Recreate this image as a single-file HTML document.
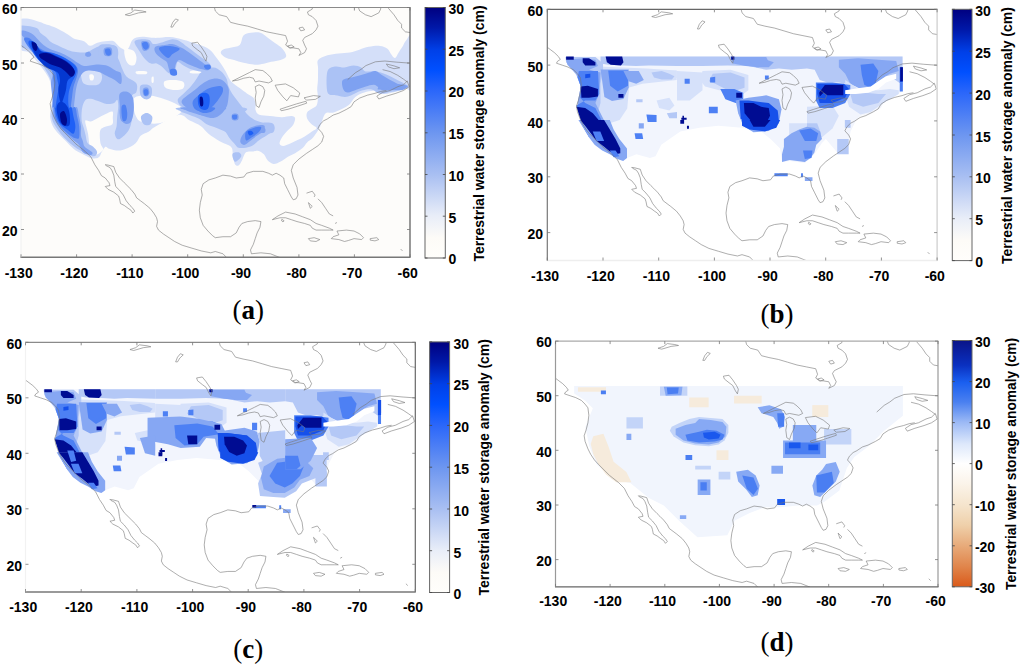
<!DOCTYPE html><html><head><meta charset="utf-8"><style>html,body{margin:0;padding:0;background:#fff;overflow:hidden}svg{display:block}</style></head><body><svg width="1024" height="667" viewBox="0 0 1024 667">
<rect width="1024" height="667" fill="#fff"/>
<svg x="21.0" y="7.5" width="389.0" height="249.8" viewBox="0 0 1024 658" preserveAspectRatio="none" overflow="hidden">
<rect x="0" y="0" width="1024" height="658" fill="#fdfcfa"/>
<path d="M0.0,29.6C4.1,29.6 11.8,28.3 19.7,29.6C27.6,30.9 40.2,35.2 47.4,37.5C54.6,39.8 56.5,41.1 63.1,43.4C69.7,45.7 78.9,48.0 86.8,51.3C94.7,54.6 103.9,59.5 110.5,63.1C117.1,66.7 121.0,69.7 126.3,73.0C131.6,76.3 135.4,80.3 142.0,82.9C148.6,85.5 159.1,85.8 165.7,88.8C172.3,91.8 175.7,100.1 181.6,100.8C187.5,101.5 194.7,94.9 201.3,92.9C207.9,90.9 214.4,89.8 221.0,89.0C227.6,88.2 235.9,87.0 240.8,87.9C245.8,88.9 247.4,91.9 250.7,94.7C254.0,97.5 257.3,102.2 260.6,104.8C263.9,107.4 267.8,108.9 270.4,110.5C273.0,112.1 274.1,115.5 276.4,114.5C278.7,113.5 281.7,109.4 284.3,104.8C286.9,100.2 288.9,91.1 292.2,86.8C295.5,82.5 299.4,80.6 304.0,79.0C308.6,77.4 313.9,77.0 319.8,77.0C325.7,77.0 333.0,78.5 339.5,79.0C346.0,79.5 349.7,80.2 358.6,80.0C367.5,79.8 382.3,77.3 393.0,78.0C403.7,78.7 413.6,81.7 422.7,83.9C431.8,86.1 439.2,88.8 447.4,91.3C455.6,93.8 463.8,95.4 472.0,98.7C480.2,102.0 490.2,106.1 496.8,111.0C503.4,115.9 506.7,122.1 511.6,128.3C516.5,134.5 521.9,141.4 526.4,148.0C530.9,154.6 535.0,161.2 538.7,167.8C542.4,174.4 545.7,182.6 548.6,187.5C551.5,192.4 551.5,193.3 556.0,197.4C560.5,201.5 569.1,207.3 575.7,212.2C582.3,217.1 589.5,222.7 595.5,227.0C601.5,231.3 608.4,233.3 612.0,238.0C615.6,242.7 616.5,249.7 617.4,255.0C618.3,260.4 615.8,265.5 617.4,270.1C619.0,274.7 620.6,280.1 626.9,282.7C633.2,285.3 645.3,284.8 655.3,285.8C665.3,286.9 677.4,289.0 686.9,289.0C696.4,289.0 706.3,285.3 712.1,285.8C717.9,286.3 721.1,287.9 721.6,292.1C722.1,296.3 719.0,305.3 715.3,311.1C711.6,316.9 704.2,321.6 699.5,326.9C694.8,332.1 690.0,337.4 686.9,342.6C683.8,347.9 680.1,354.7 680.6,358.4C681.1,362.1 685.3,364.7 690.0,364.7C694.7,364.7 702.7,361.0 709.0,358.4C715.3,355.8 721.6,352.1 727.9,349.0C734.2,345.9 740.5,343.2 746.8,339.5C753.1,335.8 760.5,330.6 765.8,326.9C771.1,323.2 778.4,320.6 778.4,317.4C778.4,314.2 770.0,312.1 765.8,307.9C761.6,303.7 755.2,297.4 753.1,292.1C751.0,286.9 751.0,280.6 753.1,276.4C755.2,272.2 761.6,270.1 765.8,266.9C770.0,263.7 775.8,262.6 778.4,257.4C781.0,252.2 781.4,242.4 781.6,235.5C781.8,228.6 779.7,223.0 779.7,215.8C779.7,208.6 781.2,201.4 781.6,192.1C782.0,182.8 781.9,169.0 782.0,160.0C782.1,151.0 777.9,143.9 782.0,138.2C786.1,132.5 797.7,128.7 806.7,125.8C815.8,122.9 826.4,122.1 836.3,120.9C846.2,119.7 856.8,120.1 865.9,118.4C875.0,116.8 882.4,113.5 890.6,111.0C898.8,108.5 906.2,105.2 915.2,103.6C924.2,102.0 936.6,100.4 944.8,101.2C953.0,102.0 959.6,104.9 964.6,108.6C969.6,112.3 971.2,119.3 974.5,123.4C977.8,127.5 981.0,134.0 984.3,133.2C987.6,132.4 990.9,123.3 994.2,118.4C997.5,113.5 1000.7,108.9 1004.0,103.6C1007.3,98.3 1009.7,90.5 1014.0,86.4C1018.3,82.3 1027.3,58.8 1030.0,79.0C1032.7,99.2 1033.3,185.4 1030.0,207.9C1026.7,230.4 1018.9,211.2 1010.4,213.8C1001.9,216.4 988.0,221.4 978.8,223.7C969.6,226.0 963.1,228.3 955.2,227.6C947.3,226.9 940.0,220.3 931.5,219.7C923.0,219.0 912.4,221.1 903.9,223.7C895.4,226.3 886.8,230.2 880.2,235.5C873.6,240.8 870.4,249.9 864.5,255.2C858.6,260.5 852.0,263.5 844.7,267.1C837.5,270.7 828.2,275.0 821.0,277.0C813.8,279.0 806.8,273.1 801.3,278.9C795.8,284.7 791.9,303.5 788.0,312.0C784.1,320.5 781.7,324.4 778.0,330.0C774.3,335.6 769.9,341.6 765.8,345.8C761.6,350.0 757.3,351.1 753.1,355.3C748.9,359.5 745.8,366.3 740.5,371.0C735.2,375.7 727.9,380.0 721.6,383.7C715.3,387.4 708.9,389.4 702.6,393.1C696.3,396.8 690.0,402.6 683.7,405.8C677.4,409.0 670.6,412.6 664.8,412.1C659.0,411.6 653.2,406.8 649.0,402.6C644.8,398.4 643.7,391.0 639.5,386.8C635.3,382.6 628.3,378.7 623.7,377.4C619.1,376.1 617.1,378.5 611.9,379.2C606.6,379.9 597.1,377.9 592.2,381.6C587.3,385.3 585.6,395.6 582.3,401.4C579.0,407.2 575.8,414.5 572.5,416.2C569.2,417.9 565.1,416.2 562.6,411.3C560.1,406.4 559.4,394.0 557.7,386.6C556.1,379.2 558.5,372.6 552.7,366.8C546.9,361.0 533.0,357.8 523.1,352.0C513.2,346.2 501.7,338.9 493.5,332.3C485.3,325.7 482.0,318.4 473.8,312.6C465.6,306.8 454.1,302.6 444.2,297.7C434.3,292.8 429.3,280.4 414.5,282.9C399.7,285.4 368.4,305.2 355.3,312.6C342.2,320.0 342.2,323.3 335.6,327.4C329.0,331.5 320.7,333.1 315.8,337.2C310.9,341.3 309.3,347.9 306.0,352.0C302.7,356.1 301.0,358.6 296.1,361.9C291.2,365.2 283.0,369.3 276.4,371.8C269.8,374.3 264.0,376.7 256.6,376.7C249.2,376.7 237.8,373.4 232.0,371.8C226.2,370.2 225.4,365.2 222.1,366.8C218.8,368.4 214.7,377.5 212.2,381.6C209.7,385.7 209.8,388.9 207.3,391.5C204.8,394.1 201.5,396.6 197.4,397.4C193.3,398.2 189.2,398.6 182.6,396.4C176.0,394.2 165.3,388.2 157.9,384.1C150.5,380.0 144.8,377.2 138.2,371.8C131.6,366.4 125.0,358.6 118.4,352.0C111.8,345.4 104.5,338.9 98.7,332.3C93.0,325.7 87.6,320.0 83.9,312.6C80.2,305.2 77.3,296.1 76.5,287.9C75.7,279.7 78.1,271.2 79.0,263.2C79.9,255.2 81.8,248.0 82.0,240.0C82.2,232.0 81.2,223.3 80.0,215.0C78.8,206.7 78.3,198.3 75.0,190.0C71.7,181.7 65.8,173.3 60.0,165.0C54.2,156.7 46.7,147.8 40.0,140.0C33.3,132.2 27.5,123.8 20.0,118.0C12.5,112.2 -0.8,119.7 -5.0,105.0C-9.2,90.3 -5.8,42.2 -5.0,29.6C-4.2,17.0 -4.1,29.6 0.0,29.6Z" fill="#d4dff9"/>
<path d="M526.4,120.9C524.8,117.2 527.2,113.5 531.3,111.0C535.4,108.5 543.6,108.1 551.0,106.1C558.4,104.0 569.9,104.0 575.7,98.7C581.5,93.4 580.7,79.3 585.6,74.0C590.5,68.7 597.9,67.8 605.3,66.6C612.7,65.4 622.8,64.5 630.0,66.6C637.2,68.7 642.3,74.5 648.7,79.0C655.1,83.5 661.9,88.9 668.5,93.8C675.1,98.7 683.3,102.8 688.2,108.6C693.1,114.3 698.9,123.4 698.1,128.3C697.3,133.2 689.9,135.7 683.3,138.2C676.7,140.7 666.0,141.5 658.6,143.1C651.2,144.7 646.1,146.8 638.9,148.0C631.7,149.2 624.1,150.9 615.2,150.5C606.3,150.1 594.7,147.7 585.6,145.6C576.5,143.5 568.3,140.3 560.9,138.2C553.5,136.1 547.0,136.1 541.2,133.2C535.5,130.3 528.0,124.6 526.4,120.9Z" fill="#d4dff9"/>
<path d="M304.0,168.0C308.0,166.8 324.7,166.8 329.0,168.0C333.3,169.2 334.0,173.8 330.0,175.0C326.0,176.2 309.3,176.2 305.0,175.0C300.7,173.8 300.0,169.2 304.0,168.0Z" fill="#fdfcfa"/>
<path d="M272.0,113.0C273.3,108.0 280.7,109.5 285.0,110.0C289.3,110.5 294.8,112.3 298.0,116.0C301.2,119.7 303.7,126.3 304.0,132.0C304.3,137.7 302.7,146.7 300.0,150.0C297.3,153.3 291.8,153.7 288.0,152.0C284.2,150.3 279.7,146.5 277.0,140.0C274.3,133.5 270.7,118.0 272.0,113.0Z" fill="#fdfcfa"/>
<path d="M341.0,122.0C343.8,117.7 355.8,116.3 360.0,118.0C364.2,119.7 366.0,127.3 366.0,132.0C366.0,136.7 363.8,144.0 360.0,146.0C356.2,148.0 346.2,148.0 343.0,144.0C339.8,140.0 338.2,126.3 341.0,122.0Z" fill="#fdfcfa"/>
<path d="M344.0,184.0C344.8,181.7 348.2,180.8 349.0,183.0C349.8,185.2 349.8,194.7 349.0,197.0C348.2,199.3 344.8,199.2 344.0,197.0C343.2,194.8 343.2,186.3 344.0,184.0Z" fill="#fdfcfa"/>
<path d="M378.0,194.0C382.2,190.7 396.7,190.5 405.0,191.0C413.3,191.5 424.5,193.2 428.0,197.0C431.5,200.8 430.7,210.7 426.0,214.0C421.3,217.3 407.7,217.5 400.0,217.0C392.3,216.5 383.7,214.8 380.0,211.0C376.3,207.2 373.8,197.3 378.0,194.0Z" fill="#fdfcfa"/>
<path d="M447.0,167.0C451.2,166.0 467.8,166.0 472.0,167.0C476.2,168.0 476.2,172.0 472.0,173.0C467.8,174.0 451.2,174.0 447.0,173.0C442.8,172.0 442.8,168.0 447.0,167.0Z" fill="#fdfcfa"/>
<path d="M299.4,236.9C306.4,231.2 325.6,231.2 338.8,232.0C352.0,232.8 366.0,237.7 378.3,241.8C390.6,245.9 405.1,251.9 412.9,256.6C420.7,261.3 425.5,265.3 425.0,270.0C424.5,274.7 417.5,280.0 410.0,285.0C402.5,290.0 390.0,296.5 380.0,300.0C370.0,303.5 358.3,306.0 350.0,306.0C341.7,306.0 336.0,301.0 330.0,300.0C324.0,299.0 318.5,301.7 314.2,300.0C309.9,298.3 307.2,295.6 304.3,290.0C301.4,284.4 297.7,275.4 296.9,266.5C296.1,257.6 292.4,242.7 299.4,236.9Z" fill="#fdfcfa"/>
<path d="M169.5,297.9C171.5,295.5 178.2,301.4 183.7,300.2C189.2,299.0 196.3,293.9 202.6,290.8C208.9,287.7 215.3,284.1 221.6,281.3C227.9,278.5 237.2,272.6 240.5,274.2C243.8,275.8 241.7,285.3 241.7,290.8C241.7,296.3 243.8,303.4 240.5,307.3C237.2,311.2 226.7,312.0 221.6,314.4C216.5,316.8 212.1,317.6 209.7,321.5C207.3,325.4 207.4,331.8 207.4,338.1C207.4,344.4 208.1,353.5 209.7,359.4C211.3,365.3 217.2,369.7 216.8,373.6C216.4,377.6 211.3,380.5 207.4,383.1C203.5,385.8 197.1,388.4 193.2,389.5C189.2,390.6 185.7,392.1 183.7,389.5C181.7,386.9 182.1,379.4 181.3,373.6C180.5,367.8 179.8,361.4 179.0,354.7C178.2,348.0 177.8,340.1 176.6,333.4C175.4,326.7 173.1,320.3 171.9,314.4C170.7,308.5 167.5,300.3 169.5,297.9Z" fill="#fdfcfa"/>
<path d="M0.0,47.4C4.8,47.7 16.5,48.0 23.7,49.3C30.9,50.6 38.8,52.2 43.4,55.2C48.0,58.2 47.3,63.1 51.3,67.1C55.2,71.0 62.5,75.0 67.1,78.9C71.7,82.9 73.0,86.8 78.9,90.8C84.8,94.8 94.2,98.7 102.6,102.6C110.9,106.5 121.1,111.4 129.0,114.0C136.9,116.6 142.3,117.5 150.0,118.0C157.7,118.5 166.7,119.3 175.0,117.0C183.3,114.7 191.7,107.2 200.0,104.0C208.3,100.8 216.7,98.2 225.0,98.0C233.3,97.8 245.5,98.5 250.0,103.0C254.5,107.5 250.5,118.7 252.0,125.0C253.5,131.3 256.3,134.5 258.8,140.8C261.3,147.1 263.9,156.0 267.1,162.9C270.3,169.8 272.7,176.8 278.2,182.3C283.7,187.8 295.6,192.0 300.2,196.1C304.8,200.2 305.3,202.5 305.8,207.1C306.3,211.7 304.9,220.0 303.0,223.7C301.1,227.4 297.0,226.9 294.7,229.2C292.4,231.5 289.6,233.8 289.2,237.5C288.8,241.2 291.1,244.4 292.0,251.3C292.9,258.2 294.9,270.8 294.7,278.9C294.5,287.0 292.4,293.6 291.0,300.0C289.6,306.4 288.6,312.1 286.2,317.5C283.8,322.9 281.3,327.4 276.4,332.3C271.5,337.2 261.5,347.1 256.6,347.1C251.7,347.1 247.6,338.1 246.8,332.3C246.0,326.6 250.7,319.7 251.7,312.6C252.7,305.6 252.3,298.8 253.0,290.0C253.7,281.2 255.9,267.8 256.0,260.0C256.1,252.2 255.1,244.4 253.3,243.0C251.5,241.6 249.6,249.5 245.0,251.3C240.4,253.2 233.1,255.0 225.7,254.1C218.3,253.2 207.7,248.1 200.8,245.8C193.9,243.5 189.3,240.8 184.2,240.3C179.1,239.8 174.1,239.8 170.4,243.0C166.7,246.2 163.9,253.6 162.1,259.6C160.3,265.6 159.8,272.2 159.4,278.9C159.1,285.6 159.0,293.6 160.0,300.0C161.0,306.4 163.6,311.3 165.3,317.5C167.0,323.7 168.7,330.6 170.3,337.2C172.0,343.8 171.9,352.1 175.2,357.0C178.5,361.9 185.9,363.1 190.0,366.8C194.1,370.5 198.7,375.5 199.9,379.2C201.1,382.9 199.5,386.9 197.4,389.0C195.3,391.1 192.4,392.7 187.5,391.5C182.6,390.3 174.4,384.9 167.8,381.6C161.2,378.3 154.6,375.9 148.0,371.8C141.4,367.7 134.9,362.8 128.3,357.0C121.7,351.2 114.3,343.8 108.6,337.2C102.8,330.6 98.3,324.9 93.8,317.5C89.3,310.1 83.5,301.9 81.4,292.8C79.3,283.8 81.0,272.0 81.4,263.2C81.8,254.4 83.9,248.0 84.0,240.0C84.1,232.0 83.0,223.3 82.0,215.0C81.0,206.7 81.3,199.2 78.0,190.0C74.7,180.8 68.3,170.0 62.0,160.0C55.7,150.0 47.3,138.3 40.0,130.0C32.7,121.7 25.5,115.3 18.0,110.0C10.5,104.7 -1.2,108.4 -5.0,98.0C-8.8,87.6 -5.8,55.8 -5.0,47.4C-4.2,39.0 -4.8,47.1 0.0,47.4Z" fill="#abc2f5"/>
<path d="M159.0,170.0C161.7,166.7 169.0,165.7 175.0,165.0C181.0,164.3 189.2,164.8 195.0,166.0C200.8,167.2 207.0,168.3 210.0,172.0C213.0,175.7 213.8,183.0 213.0,188.0C212.2,193.0 209.7,199.2 205.0,202.0C200.3,204.8 191.7,205.3 185.0,205.0C178.3,204.7 169.3,203.3 165.0,200.0C160.7,196.7 160.0,190.0 159.0,185.0C158.0,180.0 156.3,173.3 159.0,170.0Z" fill="#d4dff9"/>
<path d="M180.0,178.0C180.8,175.5 185.0,175.5 187.0,176.0C189.0,176.5 191.5,178.5 192.0,181.0C192.5,183.5 191.7,189.3 190.0,191.0C188.3,192.7 183.7,193.2 182.0,191.0C180.3,188.8 179.2,180.5 180.0,178.0Z" fill="#fdfcfa"/>
<path d="M299.4,88.8C301.8,85.5 312.4,84.3 319.0,83.9C325.6,83.5 333.9,84.4 338.8,86.4C343.8,88.5 342.9,95.4 348.7,96.2C354.5,97.0 365.2,93.3 373.4,91.3C381.6,89.2 390.6,84.3 398.0,83.9C405.4,83.5 411.2,85.5 417.8,88.8C424.4,92.1 430.9,98.7 437.5,103.6C444.1,108.5 450.7,113.5 457.3,118.4C463.9,123.3 470.4,128.3 477.0,133.2C483.6,138.1 492.7,143.1 496.8,148.0C500.9,152.9 503.4,159.2 501.7,162.9C500.0,166.6 492.7,169.5 486.9,170.3C481.1,171.1 473.7,169.0 467.1,167.8C460.5,166.6 454.0,165.4 447.4,162.9C440.8,160.4 433.4,156.3 427.7,153.0C421.9,149.7 416.2,142.3 412.9,143.1C409.6,143.9 409.5,152.6 407.9,157.9C406.2,163.2 406.3,172.7 403.0,175.2C399.7,177.7 393.1,175.6 388.2,172.7C383.3,169.8 378.3,162.0 373.4,157.9C368.5,153.8 363.5,149.7 358.6,148.0C353.7,146.3 347.9,148.8 343.8,148.0C339.7,147.2 337.2,145.6 333.9,143.1C330.6,140.6 327.3,137.3 324.0,133.2C320.7,129.1 317.5,123.3 314.2,118.4C310.9,113.5 306.8,108.5 304.3,103.6C301.8,98.7 296.9,92.1 299.4,88.8Z" fill="#abc2f5"/>
<path d="M482.0,167.8C487.8,165.3 499.2,157.9 506.6,157.9C514.0,157.9 520.6,162.9 526.4,167.8C532.2,172.7 537.9,180.9 541.2,187.5C544.5,194.1 543.6,200.7 546.1,207.3C548.6,213.9 551.9,220.4 556.0,227.0C560.1,233.6 565.9,240.2 570.8,246.8C575.7,253.4 581.5,260.8 585.6,266.5C589.7,272.2 590.6,276.4 595.5,281.3C600.4,286.2 607.0,292.0 615.2,296.1C623.4,300.2 637.3,303.4 644.8,306.0C652.3,308.6 656.4,310.5 660.0,312.0C663.6,313.5 665.6,312.9 666.2,315.0C666.8,317.1 667.1,321.2 663.8,324.9C660.5,328.6 652.7,333.1 646.5,337.2C640.3,341.3 632.5,345.5 626.7,349.6C620.9,353.7 617.6,358.6 611.9,361.9C606.1,365.2 598.8,368.1 592.2,369.3C585.6,370.5 577.4,371.0 572.5,369.3C567.6,367.6 566.7,363.9 562.6,359.4C558.5,354.9 551.9,347.5 547.8,342.2C543.7,336.9 544.8,335.9 537.9,327.4C531.0,318.9 515.1,298.1 506.6,291.2C498.1,284.3 495.1,288.7 486.9,286.2C478.7,283.7 466.4,279.7 457.3,276.4C448.2,273.1 439.2,269.8 432.6,266.5C426.0,263.2 421.1,260.7 417.8,256.6C414.5,252.5 411.2,246.7 412.9,241.8C414.5,236.9 421.9,232.8 427.7,227.0C433.4,221.2 441.6,213.9 447.4,207.3C453.1,200.7 458.1,193.3 462.2,187.5C466.3,181.7 468.7,176.0 472.0,172.7C475.3,169.4 476.2,170.3 482.0,167.8Z" fill="#abc2f5"/>
<path d="M420.0,263.2C447.1,261.5 554.4,260.7 582.3,263.2C610.2,265.7 585.6,273.1 587.3,278.0C588.9,282.9 589.7,288.7 592.2,292.8C594.7,296.9 596.4,300.6 602.1,302.7C607.9,304.8 618.5,304.3 626.7,305.1C634.9,305.9 655.9,303.5 651.4,307.6C646.9,311.8 615.2,324.6 600.0,330.0C584.8,335.4 570.4,340.4 560.0,340.0C549.6,339.6 546.5,331.6 537.9,327.4C529.3,323.2 516.5,318.3 508.3,315.0C500.1,311.7 495.2,311.3 488.6,307.6C482.0,303.9 476.2,296.9 468.8,292.8C461.4,288.7 452.4,286.2 444.2,282.9C436.0,279.6 423.5,276.4 419.5,273.1C415.5,269.8 392.9,264.9 420.0,263.2Z" fill="#abc2f5"/>
<path d="M557.7,384.1C560.2,381.6 568.8,380.4 572.5,381.6C576.2,382.8 581.1,387.4 579.9,391.5C578.7,395.6 568.8,405.5 565.1,406.3C561.4,407.1 558.9,400.1 557.7,396.4C556.5,392.7 555.2,386.6 557.7,384.1Z" fill="#abc2f5"/>
<path d="M314.0,207.0C316.5,202.2 325.0,202.2 330.0,203.0C335.0,203.8 342.0,206.5 344.0,212.0C346.0,217.5 344.7,231.0 342.0,236.0C339.3,241.0 332.5,242.7 328.0,242.0C323.5,241.3 317.3,237.8 315.0,232.0C312.7,226.2 311.5,211.8 314.0,207.0Z" fill="#abc2f5"/>
<path d="M315.8,287.9C317.0,283.0 325.7,278.0 330.6,278.0C335.6,278.0 343.9,283.0 345.5,287.9C347.1,292.8 344.2,304.3 340.5,307.6C336.8,310.9 327.3,310.9 323.2,307.6C319.1,304.3 314.6,292.8 315.8,287.9Z" fill="#abc2f5"/>
<path d="M205.0,102.0C208.2,96.2 217.5,97.0 225.0,97.0C232.5,97.0 244.8,98.2 250.0,102.0C255.2,105.8 256.0,113.7 256.0,120.0C256.0,126.3 255.0,136.3 250.0,140.0C245.0,143.7 233.3,143.3 226.0,142.0C218.7,140.7 209.5,138.7 206.0,132.0C202.5,125.3 201.8,107.8 205.0,102.0Z" fill="#abc2f5"/>
<path d="M806.7,167.8C810.2,157.8 819.0,157.2 826.4,155.5C833.8,153.8 842.9,158.3 851.1,157.9C859.3,157.5 868.4,153.0 875.8,153.0C883.2,153.0 890.6,155.4 895.5,157.9C900.4,160.4 900.5,166.2 905.4,167.8C910.3,169.5 918.5,167.4 925.1,167.8C931.7,168.2 938.2,168.7 944.8,170.3C951.4,171.9 958.0,174.7 964.6,177.6C971.2,180.5 977.7,184.2 984.3,187.5C990.9,190.8 998.2,194.1 1004.0,197.4C1009.8,200.7 1018.9,204.0 1018.9,207.3C1018.9,210.6 1011.4,214.6 1004.0,217.1C996.6,219.6 984.4,220.4 974.5,222.1C964.6,223.8 953.3,228.1 944.8,227.0C936.3,225.9 931.1,217.3 923.6,215.8C916.1,214.3 906.5,216.5 899.9,217.8C893.3,219.1 889.5,221.4 884.2,223.7C879.0,226.0 873.7,229.6 868.4,231.6C863.1,233.6 858.5,235.5 852.6,235.5C846.7,235.5 839.5,232.6 832.9,231.6C826.3,230.6 817.8,232.2 813.2,229.6C808.6,227.0 806.4,226.1 805.3,215.8C804.2,205.5 803.2,177.9 806.7,167.8Z" fill="#abc2f5"/>
<path d="M629.0,306.0C634.8,302.2 657.8,302.2 663.5,306.0C669.2,309.8 669.2,325.2 663.5,329.0C657.8,332.8 634.8,332.8 629.0,329.0C623.2,325.2 623.2,309.8 629.0,306.0Z" fill="#abc2f5"/>
<path d="M0.0,61.2C2.6,59.9 10.5,61.5 15.8,63.1C21.1,64.7 27.0,67.7 31.6,71.0C36.2,74.3 38.8,78.3 43.4,82.9C48.0,87.5 53.3,94.0 59.2,98.6C65.1,103.2 71.7,107.2 78.9,110.5C86.1,113.8 94.7,115.1 102.6,118.4C110.5,121.7 118.4,125.6 126.3,130.2C134.2,134.8 143.4,142.1 150.0,146.0C156.6,149.9 159.8,152.9 165.7,153.9C171.6,154.9 178.9,152.7 185.5,152.0C192.1,151.3 198.0,149.7 205.2,150.0C212.4,150.3 221.7,151.3 228.9,153.9C236.1,156.5 242.9,162.4 248.6,165.7C254.3,169.0 260.8,167.7 263.2,173.6C265.6,179.5 266.3,198.6 263.2,201.2C260.1,203.8 251.6,193.3 244.6,189.4C237.6,185.5 227.6,180.9 221.0,177.6C214.4,174.3 211.8,171.7 205.2,169.7C198.6,167.7 188.1,165.7 181.5,165.7C174.9,165.7 170.3,166.4 165.7,169.7C161.1,173.0 157.2,178.9 153.9,185.5C150.6,192.1 148.0,200.5 146.0,209.1C144.0,217.7 143.0,227.8 142.0,236.8C141.0,245.8 139.0,258.8 140.0,263.2C141.0,267.6 145.8,259.1 148.0,263.2C150.2,267.3 151.3,279.7 153.0,287.9C154.7,296.1 157.1,304.4 157.9,312.6C158.7,320.8 157.1,330.6 157.9,337.2C158.7,343.8 161.2,347.1 162.9,352.0C164.6,356.9 163.7,361.9 167.8,366.8C171.9,371.7 185.0,377.9 187.5,381.6C190.0,385.3 186.7,389.0 182.6,389.0C178.5,389.0 167.8,386.1 162.9,381.6C158.0,377.1 157.1,367.2 153.0,361.9C148.9,356.6 144.0,354.5 138.2,349.6C132.4,344.7 125.0,338.5 118.4,332.3C111.8,326.1 104.0,320.0 98.7,312.6C93.4,305.2 88.9,296.1 86.4,287.9C83.9,279.7 84.2,267.3 83.9,263.2C83.6,259.1 85.0,266.3 84.8,263.2C84.6,260.1 83.6,251.6 82.9,244.6C82.2,237.6 81.6,228.9 80.9,221.0C80.2,213.1 78.6,204.5 78.9,197.3C79.2,190.1 82.9,185.5 82.9,177.6C82.9,169.7 82.9,157.2 78.9,150.0C75.0,142.8 65.8,139.5 59.2,134.2C52.6,128.9 46.1,124.3 39.5,118.4C32.9,112.5 25.0,105.2 19.7,98.6C14.4,92.0 11.2,83.5 7.9,78.9C4.6,74.3 1.3,74.0 0.0,71.0C-1.3,68.0 -2.6,62.5 0.0,61.2Z" fill="#7ea1f1"/>
<path d="M219.0,108.0C221.8,104.7 233.5,104.0 237.0,106.0C240.5,108.0 240.3,116.3 240.0,120.0C239.7,123.7 238.3,127.0 235.0,128.0C231.7,129.0 222.7,129.3 220.0,126.0C217.3,122.7 216.2,111.3 219.0,108.0Z" fill="#7ea1f1"/>
<path d="M316.6,91.3C317.9,87.2 326.3,88.2 330.0,89.0C333.7,89.8 337.8,92.5 338.8,96.0C339.8,99.5 338.8,107.1 336.0,110.0C333.2,112.9 325.2,116.6 322.0,113.5C318.8,110.4 315.3,95.4 316.6,91.3Z" fill="#7ea1f1"/>
<path d="M353.6,103.6C357.7,100.3 370.9,99.9 378.3,98.7C385.7,97.5 390.6,95.0 398.0,96.2C405.4,97.4 415.3,102.4 422.7,106.1C430.1,109.8 435.9,113.9 442.5,118.4C449.1,122.9 455.6,128.3 462.2,133.2C468.8,138.1 476.2,143.9 482.0,148.0C487.8,152.1 495.2,155.0 496.8,157.9C498.4,160.8 495.1,164.5 491.8,165.3C488.5,166.1 481.9,164.1 477.0,162.9C472.1,161.7 468.8,160.4 462.2,157.9C455.6,155.4 444.9,151.3 437.5,148.0C430.1,144.7 422.7,138.2 417.8,138.2C412.9,138.2 410.4,143.1 407.9,148.0C405.4,152.9 405.5,163.7 403.0,167.8C400.5,171.9 395.6,174.3 393.1,172.7C390.6,171.0 389.9,162.8 388.2,157.9C386.5,153.0 386.5,147.2 383.2,143.1C379.9,139.0 373.3,137.3 368.4,133.2C363.5,129.1 356.1,123.3 353.6,118.4C351.1,113.5 349.5,106.9 353.6,103.6Z" fill="#7ea1f1"/>
<path d="M170.0,120.0C171.7,118.2 177.5,116.2 180.0,117.0C182.5,117.8 185.3,122.8 185.0,125.0C184.7,127.2 180.5,129.5 178.0,130.0C175.5,130.5 171.3,129.7 170.0,128.0C168.7,126.3 168.3,121.8 170.0,120.0Z" fill="#7ea1f1"/>
<path d="M437.5,231.9C443.3,226.9 449.9,222.8 457.3,217.1C464.7,211.3 473.8,202.3 482.0,197.4C490.2,192.5 498.4,188.3 506.6,187.5C514.8,186.7 524.7,188.4 531.3,192.5C537.9,196.6 543.6,204.8 546.1,212.2C548.6,219.6 546.9,228.7 546.1,236.9C545.3,245.1 544.5,254.2 541.2,261.6C537.9,269.0 532.2,276.4 526.4,281.3C520.6,286.2 514.0,290.4 506.6,291.2C499.2,292.0 490.2,288.7 482.0,286.2C473.8,283.7 465.5,280.5 457.3,276.4C449.1,272.3 438.4,266.5 432.6,261.6C426.8,256.7 421.9,251.8 422.7,246.8C423.5,241.9 431.7,236.9 437.5,231.9Z" fill="#7ea1f1"/>
<path d="M259.9,227.0C263.2,221.2 273.9,220.4 279.6,222.1C285.4,223.8 291.5,228.7 294.4,236.9C297.3,245.1 297.7,260.7 296.9,271.4C296.1,282.1 293.2,295.2 289.5,301.0C285.8,306.8 279.2,307.6 274.7,306.0C270.2,304.4 264.8,299.4 262.3,291.2C259.8,283.0 260.3,267.3 259.9,256.6C259.5,245.9 256.6,232.8 259.9,227.0Z" fill="#7ea1f1"/>
<path d="M321.6,214.0C323.6,211.0 331.3,210.2 334.0,212.0C336.7,213.8 338.3,221.3 338.0,225.0C337.7,228.7 334.7,233.2 332.0,234.0C329.3,234.8 323.7,233.3 322.0,230.0C320.3,226.7 319.6,217.0 321.6,214.0Z" fill="#7ea1f1"/>
<path d="M556.0,281.0C558.5,278.5 568.5,278.5 571.0,281.0C573.5,283.5 573.5,293.5 571.0,296.0C568.5,298.5 558.5,298.5 556.0,296.0C553.5,293.5 553.5,283.5 556.0,281.0Z" fill="#7ea1f1"/>
<path d="M424.4,263.2C440.8,262.0 515.7,261.5 533.0,263.2C550.3,264.9 532.1,269.8 528.0,273.1C523.9,276.4 515.7,280.8 508.3,282.9C500.9,284.9 492.7,286.2 483.6,285.4C474.6,284.6 462.2,280.5 454.0,278.0C445.8,275.5 439.2,273.1 434.3,270.6C429.4,268.1 407.9,264.4 424.4,263.2Z" fill="#7ea1f1"/>
<path d="M582.3,337.2C586.4,331.0 594.7,322.0 602.1,317.5C609.5,313.0 620.1,310.9 626.7,310.1C633.3,309.3 639.9,309.7 641.5,312.6C643.1,315.5 639.9,323.3 636.6,327.4C633.3,331.5 627.5,333.1 621.8,337.2C616.0,341.3 607.9,347.9 602.1,352.0C596.4,356.1 591.4,361.5 587.3,361.9C583.2,362.3 578.2,358.6 577.4,354.5C576.6,350.4 578.2,343.4 582.3,337.2Z" fill="#7ea1f1"/>
<path d="M557.7,285.4C558.1,283.3 563.1,282.1 565.1,282.9C567.1,283.7 570.4,288.2 570.0,290.3C569.6,292.4 564.6,296.1 562.6,295.3C560.6,294.5 557.3,287.5 557.7,285.4Z" fill="#7ea1f1"/>
<path d="M261.6,263.2C264.9,258.3 278.0,258.3 281.3,263.2C284.6,268.1 283.0,286.2 281.3,292.8C279.6,299.4 274.7,302.7 271.4,302.7C268.1,302.7 263.2,299.4 261.6,292.8C260.0,286.2 258.3,268.1 261.6,263.2Z" fill="#7ea1f1"/>
<path d="M846.1,192.5C849.0,187.4 857.7,187.6 865.9,185.1C874.1,182.6 886.5,180.1 895.5,177.6C904.5,175.1 913.6,171.9 920.2,170.3C926.8,168.7 930.1,166.6 935.0,167.8C939.9,169.0 943.2,173.5 949.8,177.6C956.4,181.7 967.1,188.4 974.5,192.5C981.9,196.6 987.6,199.4 994.2,202.3C1000.8,205.2 1012.3,207.2 1013.9,209.7C1015.5,212.2 1010.6,215.9 1004.0,217.1C997.4,218.3 983.5,217.1 974.5,217.1C965.5,217.1 957.0,219.3 949.8,217.1C942.6,214.9 938.5,205.4 931.5,203.9C924.5,202.4 915.7,205.9 907.8,207.9C899.9,209.9 892.1,213.2 884.2,215.8C876.3,218.4 866.4,223.7 860.5,223.7C854.6,223.7 851.1,221.0 848.7,215.8C846.3,210.6 843.2,197.6 846.1,192.5Z" fill="#7ea1f1"/>
<path d="M939.4,215.8C942.0,217.1 954.5,213.1 963.1,211.8C971.7,210.5 982.8,207.9 990.7,207.9C998.6,207.9 1005.8,211.8 1010.4,211.8C1015.0,211.8 1018.3,209.2 1018.3,207.9C1018.3,206.6 1018.3,205.2 1010.4,203.9C1002.5,202.6 981.5,200.0 971.0,200.0C960.5,200.0 952.6,201.3 947.3,203.9C942.0,206.5 936.8,214.5 939.4,215.8Z" fill="#7ea1f1"/>
<path d="M629.0,318.0C631.2,316.2 639.8,316.2 642.0,318.0C644.2,319.8 644.2,327.2 642.0,329.0C639.8,330.8 631.2,330.8 629.0,329.0C626.8,327.2 626.8,319.8 629.0,318.0Z" fill="#7ea1f1"/>
<path d="M15.8,78.9C19.1,79.2 23.0,80.8 27.6,84.8C32.2,88.8 37.5,97.7 43.4,102.6C49.3,107.5 55.2,111.1 63.1,114.4C71.0,117.7 81.6,119.0 90.8,122.3C100.0,125.6 109.9,129.6 118.4,134.2C126.9,138.8 136.7,144.8 142.0,150.0C147.3,155.2 149.3,159.8 150.0,165.7C150.7,171.6 148.0,178.3 146.0,185.5C144.0,192.7 140.1,200.5 138.1,209.1C136.1,217.7 135.2,227.8 134.2,236.8C133.2,245.8 130.7,258.8 132.2,263.2C133.7,267.6 140.5,259.1 143.1,263.2C145.7,267.3 146.3,279.7 148.0,287.9C149.7,296.1 152.2,303.6 153.0,312.6C153.8,321.7 154.7,336.9 153.0,342.2C151.3,347.5 148.0,346.2 143.1,344.6C138.2,343.0 130.0,337.6 123.4,332.3C116.8,327.0 108.9,319.2 103.6,312.6C98.2,306.0 94.2,301.0 91.3,292.8C88.4,284.6 87.8,268.1 86.4,263.2C85.0,258.3 83.2,267.6 82.9,263.2C82.6,258.8 84.2,246.5 84.8,236.8C85.4,227.1 86.8,213.8 86.8,205.2C86.8,196.6 85.4,191.4 84.8,185.5C84.2,179.6 85.9,175.0 82.9,169.7C80.0,164.4 73.0,159.2 67.1,153.9C61.2,148.6 53.3,144.0 47.4,138.1C41.5,132.2 36.9,125.0 31.6,118.4C26.3,111.8 19.8,104.5 15.8,98.6C11.8,92.7 7.9,86.2 7.9,82.9C7.9,79.6 12.5,78.6 15.8,78.9Z" fill="#4f82f3"/>
<path d="M363.5,106.1C366.0,102.4 379.1,100.8 388.2,101.2C397.2,101.6 416.2,104.9 417.8,108.6C419.4,112.3 402.9,119.3 398.0,123.4C393.1,127.5 392.3,133.2 388.2,133.2C384.1,133.2 377.5,127.9 373.4,123.4C369.3,118.9 361.0,109.8 363.5,106.1Z" fill="#4f82f3"/>
<path d="M319.0,93.8C320.6,91.3 328.5,89.7 331.4,91.3C334.3,92.9 336.8,100.3 336.4,103.6C336.0,106.9 331.5,110.6 329.0,111.0C326.5,111.4 323.3,109.0 321.6,106.1C319.9,103.2 317.4,96.3 319.0,93.8Z" fill="#4f82f3"/>
<path d="M393.0,163.0C395.2,160.5 405.2,160.5 408.0,163.0C410.8,165.5 412.2,175.5 410.0,178.0C407.8,180.5 397.8,180.5 395.0,178.0C392.2,175.5 390.8,165.5 393.0,163.0Z" fill="#4f82f3"/>
<path d="M482.0,153.0C483.6,150.9 493.9,149.3 496.8,150.5C499.7,151.7 500.9,158.3 499.2,160.4C497.5,162.5 489.8,164.1 486.9,162.9C484.0,161.7 480.4,155.1 482.0,153.0Z" fill="#4f82f3"/>
<path d="M452.3,246.8C454.8,240.2 464.7,232.8 472.1,227.0C479.5,221.2 487.8,215.5 496.8,212.2C505.9,208.9 520.6,205.7 526.4,207.3C532.1,209.0 532.9,215.5 531.3,222.1C529.6,228.7 522.2,239.4 516.5,246.8C510.8,254.2 503.4,262.0 496.8,266.5C490.2,271.0 483.6,273.9 477.0,273.9C470.4,273.9 461.4,271.0 457.3,266.5C453.2,262.0 449.8,253.4 452.3,246.8Z" fill="#4f82f3"/>
<path d="M264.8,261.6C266.0,255.0 272.2,254.1 274.7,256.6C277.2,259.1 279.2,269.8 279.6,276.4C280.0,283.0 279.2,292.8 277.1,296.1C275.1,299.4 269.4,301.9 267.3,296.1C265.2,290.4 263.6,268.2 264.8,261.6Z" fill="#4f82f3"/>
<path d="M323.0,218.0C324.2,215.3 331.0,214.3 333.0,216.0C335.0,217.7 336.2,225.3 335.0,228.0C333.8,230.7 328.0,233.7 326.0,232.0C324.0,230.3 321.8,220.7 323.0,218.0Z" fill="#4f82f3"/>
<path d="M556.0,284.0C557.7,282.2 566.0,281.5 568.0,283.0C570.0,284.5 569.7,291.2 568.0,293.0C566.3,294.8 560.0,295.5 558.0,294.0C556.0,292.5 554.3,285.8 556.0,284.0Z" fill="#4f82f3"/>
<path d="M459.0,263.2C465.6,261.5 500.9,261.5 508.3,263.2C515.7,264.9 507.5,270.6 503.4,273.1C499.3,275.6 489.4,278.0 483.6,278.0C477.8,278.0 472.9,275.6 468.8,273.1C464.7,270.6 452.4,264.9 459.0,263.2Z" fill="#4f82f3"/>
<path d="M592.2,327.4C595.5,322.0 605.3,319.6 611.9,317.5C618.5,315.4 629.2,313.4 631.7,315.0C634.2,316.6 630.8,322.9 626.7,327.4C622.6,331.9 612.8,338.5 607.0,342.2C601.2,345.9 594.7,352.1 592.2,349.6C589.7,347.1 588.9,332.8 592.2,327.4Z" fill="#4f82f3"/>
<path d="M222.0,110.0C223.8,107.8 231.5,107.0 234.0,109.0C236.5,111.0 237.7,119.0 237.0,122.0C236.3,125.0 232.3,127.0 230.0,127.0C227.7,127.0 224.3,124.8 223.0,122.0C221.7,119.2 220.2,112.2 222.0,110.0Z" fill="#4f82f3"/>
<path d="M23.7,86.8C27.0,87.4 34.2,94.0 39.5,98.6C44.8,103.2 48.6,111.1 55.2,114.4C61.8,117.7 71.0,116.4 78.9,118.4C86.8,120.4 94.0,122.4 102.6,126.3C111.1,130.2 123.0,136.8 130.2,142.0C137.4,147.2 143.7,151.9 146.0,157.8C148.3,163.7 146.0,171.0 144.0,177.6C142.0,184.2 137.1,190.1 134.2,197.3C131.2,204.5 127.9,213.1 126.3,221.0C124.7,228.9 124.3,237.6 124.3,244.6C124.3,251.6 124.8,260.1 126.3,263.2C127.8,266.3 131.2,259.1 133.2,263.2C135.2,267.3 136.5,279.7 138.2,287.9C139.8,296.1 143.1,305.2 143.1,312.6C143.1,320.0 141.5,330.7 138.2,332.3C134.9,333.9 129.2,326.5 123.4,322.4C117.6,318.3 108.5,313.4 103.6,307.6C98.7,301.9 96.3,295.3 93.8,287.9C91.3,280.5 89.3,267.3 88.8,263.2C88.3,259.1 89.8,267.6 90.8,263.2C91.8,258.8 93.4,245.8 94.7,236.8C96.0,227.8 98.6,217.7 98.6,209.1C98.6,200.5 96.0,192.1 94.7,185.5C93.4,178.9 94.1,174.3 90.8,169.7C87.5,165.1 80.9,161.8 75.0,157.8C69.1,153.9 61.1,150.6 55.2,146.0C49.3,141.4 44.1,136.1 39.5,130.2C34.9,124.3 30.9,116.4 27.6,110.5C24.3,104.6 20.4,98.7 19.7,94.7C19.0,90.8 20.4,86.2 23.7,86.8Z" fill="#1e60f6"/>
<path d="M467.1,231.9C469.6,226.6 477.5,224.9 482.0,224.5C486.5,224.1 491.8,225.8 494.3,229.5C496.8,233.2 497.2,240.6 496.8,246.8C496.4,253.0 495.1,262.8 491.8,266.5C488.5,270.2 481.1,270.6 477.0,269.0C472.9,267.4 468.8,262.8 467.1,256.6C465.5,250.4 464.6,237.2 467.1,231.9Z" fill="#1e60f6"/>
<path d="M597.0,327.0C597.8,325.0 604.5,324.2 607.0,325.0C609.5,325.8 612.8,330.0 612.0,332.0C611.2,334.0 604.5,337.8 602.0,337.0C599.5,336.2 596.2,329.0 597.0,327.0Z" fill="#1e60f6"/>
<path d="M27.6,88.8C29.2,86.8 35.5,90.4 39.5,94.7C43.5,99.0 46.0,110.5 51.3,114.4C56.5,118.4 63.1,115.8 71.0,118.4C78.9,121.0 89.4,125.6 98.6,130.2C107.8,134.8 119.4,140.1 126.3,146.0C133.2,151.9 138.8,159.8 140.1,165.7C141.4,171.6 137.2,176.9 134.2,181.5C131.2,186.1 124.9,187.5 122.3,193.4C119.7,199.3 120.0,209.8 118.4,217.0C116.8,224.2 114.5,230.9 112.5,236.8C110.5,242.7 108.5,252.5 106.5,252.5C104.5,252.5 101.9,243.4 100.6,236.8C99.3,230.2 98.3,220.3 98.6,213.1C98.9,205.9 102.6,200.0 102.6,193.4C102.6,186.8 101.2,178.2 98.6,173.6C96.0,169.0 92.0,168.3 86.8,165.7C81.5,163.1 73.0,161.8 67.1,157.8C61.2,153.9 55.9,147.2 51.3,142.0C46.7,136.8 43.1,132.2 39.5,126.3C35.9,120.4 31.6,112.8 29.6,106.5C27.6,100.2 26.0,90.8 27.6,88.8Z" fill="#0438d0"/>
<path d="M93.8,263.2C93.2,268.7 94.6,276.3 96.2,282.9C97.8,289.5 99.9,297.8 103.6,302.7C107.3,307.6 114.3,311.8 118.4,312.6C122.5,313.4 126.7,312.6 128.3,307.6C130.0,302.7 129.1,290.3 128.3,282.9C127.5,275.5 126.1,268.7 123.4,263.2C120.7,257.7 115.9,252.2 112.0,250.0C108.1,247.8 103.0,247.8 100.0,250.0C97.0,252.2 94.4,257.7 93.8,263.2Z" fill="#0438d0"/>
<path d="M29.6,90.8C31.2,89.8 37.2,92.1 39.5,94.7C41.8,97.3 43.4,103.2 43.4,106.5C43.4,109.8 41.1,113.7 39.5,114.4C37.9,115.1 35.1,112.8 33.5,110.5C31.9,108.2 30.2,103.9 29.6,100.6C29.0,97.3 28.0,91.8 29.6,90.8Z" fill="#000a8e"/>
<path d="M49.3,122.3C52.9,120.7 63.4,119.1 71.0,120.4C78.6,121.7 86.8,126.6 94.7,130.2C102.6,133.8 111.5,137.4 118.4,142.0C125.3,146.6 132.2,153.2 136.1,157.8C140.0,162.4 141.7,166.1 142.0,169.7C142.3,173.3 140.1,177.5 138.1,179.5C136.1,181.5 133.5,183.1 130.2,181.5C126.9,179.9 123.0,173.6 118.4,169.7C113.8,165.8 109.2,161.1 102.6,157.8C96.0,154.5 86.1,153.3 78.9,150.0C71.7,146.7 64.1,141.4 59.2,138.1C54.3,134.8 50.9,132.8 49.3,130.2C47.6,127.6 45.7,123.9 49.3,122.3Z" fill="#000a8e"/>
<path d="M103.6,278.0C105.2,274.7 110.6,270.6 113.5,273.1C116.4,275.6 120.1,286.6 120.9,292.8C121.7,299.0 120.5,307.6 118.4,310.1C116.4,312.6 111.1,310.5 108.6,307.6C106.1,304.7 104.4,297.7 103.6,292.8C102.8,287.9 101.9,281.3 103.6,278.0Z" fill="#000a8e"/>
<path d="M470.6,236.9C471.6,233.2 476.5,233.6 478.0,236.9C479.5,240.2 480.5,252.9 479.5,256.6C478.5,260.3 473.6,262.4 472.1,259.1C470.6,255.8 469.6,240.6 470.6,236.9Z" fill="#000a8e"/>
<path d="M-0.8,98.9 9.2,106.4 19.2,113.9 29.2,123.8 34.2,131.3 26.7,136.3 24.2,141.3 39.2,146.3 54.2,151.3 69.2,158.8 79.2,168.7 86.8,178.7 89.3,198.6 86.8,218.6 81.7,238.5 76.7,253.5 79.2,268.4 86.8,288.4 94.3,303.3 104.3,318.3 114.3,329.3 144.3,359.2 169.3,379.2 184.3,394.2 194.3,414.1 204.3,429.1 211.8,443.1 221.8,449.1 231.8,461.6 234.3,469.0 221.8,471.5 229.3,479.0 244.3,486.5 256.9,496.5 259.4,504.0 261.9,516.5 271.9,521.5 281.9,528.9 289.4,533.9 294.4,541.4 299.4,536.4 294.4,528.9 286.9,521.5 276.9,509.0 269.4,494.0 259.4,481.5 249.3,471.5 246.8,459.1 244.3,441.6 239.3,429.1 234.3,421.6 224.3,416.6 221.8,414.1 229.3,415.1 244.3,419.1 249.3,434.1 259.4,449.1 271.9,461.6 279.4,469.0 289.4,479.0 299.4,491.5 304.4,501.5 314.4,509.0 324.4,516.5 339.4,528.9 349.4,541.4 356.9,553.9 359.4,563.9 356.9,576.4 361.9,586.3 374.4,596.3 389.4,606.3 404.4,616.3 424.5,626.3 449.5,633.8 474.5,641.2 499.5,646.2 511.5,642.7 531.5,648.7 541.5,658.7" fill="none" stroke="#777" stroke-width="0.6" vector-effect="non-scaling-stroke" stroke-linejoin="round"/>
<path d="M511.5,449.1 531.5,441.6 551.5,444.1 566.5,449.1 586.5,446.6 594.0,436.6 611.6,431.6 636.6,431.6 651.6,436.6 661.6,441.6 671.6,436.6 681.6,441.6 691.6,449.1 694.1,464.1 701.6,479.0 711.6,499.0 716.6,506.5 724.1,504.0 729.1,494.0 726.6,474.0 716.6,449.1 711.6,429.1 716.6,414.1 731.6,399.2 751.6,384.2 766.7,374.2 781.7,364.2 791.7,354.3 796.7,339.3 791.7,329.3 781.7,318.3 786.7,308.3 796.7,298.4 806.7,293.4 821.7,283.4 836.7,278.4 856.7,268.4 869.2,261.0 876.7,248.5 891.7,238.5 911.7,231.0 931.8,226.1 946.8,221.1 961.8,218.6" fill="none" stroke="#777" stroke-width="0.6" vector-effect="non-scaling-stroke" stroke-linejoin="round"/>
<path d="M511.5,449.1 494.5,454.1 479.5,464.1 474.5,479.0 477.0,494.0 472.0,514.0 469.5,533.9 472.0,553.9 479.5,573.9 492.0,588.8 504.5,601.3 511.5,606.3 531.5,603.8 551.5,603.8 566.5,593.8 574.0,578.9 581.5,568.9 596.6,563.9 616.6,561.4 631.6,563.9 629.1,578.9 621.6,593.8 616.6,608.8 611.6,623.8 604.1,638.7 606.6,648.7 631.6,646.2 656.6,648.7 681.6,658.7" fill="none" stroke="#777" stroke-width="0.6" vector-effect="non-scaling-stroke" stroke-linejoin="round"/>
<path d="M661.6,558.9 676.6,548.9 696.6,538.9 721.6,543.9 741.6,551.4 761.6,558.9 776.7,568.9 791.7,573.9 811.7,581.3 821.7,586.3 811.7,586.3 791.7,586.3 776.7,586.3 766.7,581.3 761.6,573.9 746.6,568.9 726.6,563.9 711.6,558.9 696.6,553.9 681.6,553.9Z" fill="none" stroke="#777" stroke-width="0.6" vector-effect="non-scaling-stroke" stroke-linejoin="round"/>
<path d="M686.6,557.9 692.6,561.9 689.6,564.9 685.6,561.4Z" fill="none" stroke="#777" stroke-width="0.6" vector-effect="non-scaling-stroke" stroke-linejoin="round"/>
<path d="M831.7,588.8 856.7,586.3 876.7,588.8 891.7,596.3 901.7,606.3 896.7,611.3 876.7,608.8 861.7,613.8 851.7,616.3 836.7,611.3 816.7,608.8 821.7,603.8 836.7,598.8Z" fill="none" stroke="#777" stroke-width="0.6" vector-effect="non-scaling-stroke" stroke-linejoin="round"/>
<path d="M756.6,608.8 771.7,606.3 786.7,611.3 776.7,616.3 761.6,614.8Z" fill="none" stroke="#777" stroke-width="0.6" vector-effect="non-scaling-stroke" stroke-linejoin="round"/>
<path d="M919.2,608.8 936.8,606.3 941.8,611.3 931.8,614.8 919.2,612.8Z" fill="none" stroke="#777" stroke-width="0.6" vector-effect="non-scaling-stroke" stroke-linejoin="round"/>
<path d="M751.6,489.0 766.7,484.0 774.2,494.0 771.7,499.0" fill="none" stroke="#777" stroke-width="0.6" vector-effect="non-scaling-stroke" stroke-linejoin="round"/>
<path d="M756.6,514.0 761.6,528.9 766.7,523.9Z" fill="none" stroke="#777" stroke-width="0.6" vector-effect="non-scaling-stroke" stroke-linejoin="round"/>
<path d="M781.7,504.0 791.7,514.0 801.7,528.9 811.7,543.9 821.7,548.9" fill="none" stroke="#777" stroke-width="0.6" vector-effect="non-scaling-stroke" stroke-linejoin="round"/>
<path d="M826.7,568.9 831.7,566.4" fill="none" stroke="#777" stroke-width="0.6" vector-effect="non-scaling-stroke" stroke-linejoin="round"/>
<path d="M999.3,636.2 1004.3,641.2" fill="none" stroke="#777" stroke-width="0.6" vector-effect="non-scaling-stroke" stroke-linejoin="round"/>
<path d="M860.0,190.0 880.0,172.0 895.0,163.0 908.0,153.0 933.0,143.0 958.0,141.0 989.0,144.0 1030.0,147.0" fill="none" stroke="#777" stroke-width="0.6" vector-effect="non-scaling-stroke" stroke-linejoin="round"/>
<path d="M936.8,233.5 951.8,223.6 971.8,218.6 991.8,208.6 1006.8,203.6 1016.8,193.7 1021.8,208.6 1006.8,218.6 986.8,226.1 961.8,233.5 941.8,241.0Z" fill="none" stroke="#777" stroke-width="0.6" vector-effect="non-scaling-stroke" stroke-linejoin="round"/>
<path d="M961.8,148.8 981.8,153.8 996.8,158.8 981.8,161.2 966.8,156.3Z" fill="none" stroke="#777" stroke-width="0.6" vector-effect="non-scaling-stroke" stroke-linejoin="round"/>
<path d="M951.8,163.7 971.8,168.7 991.8,178.7 1006.8,188.7 1016.8,196.1" fill="none" stroke="#777" stroke-width="0.6" vector-effect="non-scaling-stroke" stroke-linejoin="round"/>
<path d="M511.5,9.2 521.5,19.1 541.5,24.1 551.5,39.1 571.5,44.1 596.6,49.1 621.6,56.5 646.6,64.0 671.6,69.0 696.6,74.0 701.6,88.9 696.6,98.9 706.6,106.4 716.6,106.4 731.6,108.9 736.6,118.9 731.6,126.3 746.6,118.9 751.6,108.9 746.6,98.9 741.6,86.5 746.6,79.0 766.7,69.0 776.7,59.0 781.7,49.1 776.7,34.1 766.7,24.1 756.6,19.1 754.1,11.7 766.7,4.2 766.7,-3.3" fill="none" stroke="#777" stroke-width="0.6" vector-effect="non-scaling-stroke" stroke-linejoin="round"/>
<path d="M511.5,9.2 509.0,-0.8" fill="none" stroke="#777" stroke-width="0.6" vector-effect="non-scaling-stroke" stroke-linejoin="round"/>
<path d="M731.6,54.0 741.6,51.6 746.6,59.0 736.6,61.5Z" fill="none" stroke="#777" stroke-width="0.6" vector-effect="non-scaling-stroke" stroke-linejoin="round"/>
<path d="M701.6,101.4 711.6,98.9 719.1,103.9 709.1,106.4Z" fill="none" stroke="#777" stroke-width="0.6" vector-effect="non-scaling-stroke" stroke-linejoin="round"/>
<path d="M886.7,-3.3 891.7,9.2 906.7,19.1 921.7,24.1 941.8,14.2 946.8,4.2 946.8,-3.3" fill="none" stroke="#777" stroke-width="0.6" vector-effect="non-scaling-stroke" stroke-linejoin="round"/>
<path d="M966.8,1.7 981.8,19.1 991.8,34.1 1001.8,44.1 1001.8,54.0 1011.8,64.0 1026.8,66.5" fill="none" stroke="#777" stroke-width="0.6" vector-effect="non-scaling-stroke" stroke-linejoin="round"/>
<path d="M556.5,193.7 576.5,183.7 601.6,171.2 616.6,163.7 636.6,166.2 646.6,173.7 656.6,183.7 661.6,193.7 651.6,198.6 626.6,193.7 616.6,196.1 611.6,186.2 601.6,183.7 586.5,186.2 571.5,191.2Z" fill="none" stroke="#777" stroke-width="0.6" vector-effect="non-scaling-stroke" stroke-linejoin="round"/>
<path d="M616.6,208.6 626.6,203.6 636.6,208.6 641.6,218.6 639.1,233.5 631.6,248.5 626.6,263.5 619.1,258.5 616.6,238.5 619.1,223.6Z" fill="none" stroke="#777" stroke-width="0.6" vector-effect="non-scaling-stroke" stroke-linejoin="round"/>
<path d="M669.0,204.7 696.3,201.3 716.8,211.5 733.8,225.2 730.4,235.4 709.9,232.0 699.7,245.7 689.5,235.4 675.8,218.4Z" fill="none" stroke="#777" stroke-width="0.6" vector-effect="non-scaling-stroke" stroke-linejoin="round"/>
<path d="M682.0,268.0 700.0,262.0 725.0,254.0 750.0,247.0 752.0,252.0 728.0,260.0 703.0,268.0 685.0,272.0Z" fill="none" stroke="#777" stroke-width="0.6" vector-effect="non-scaling-stroke" stroke-linejoin="round"/>
<path d="M745.0,238.0 770.0,232.0 788.0,234.0 775.0,242.0 752.0,244.0Z" fill="none" stroke="#777" stroke-width="0.6" vector-effect="non-scaling-stroke" stroke-linejoin="round"/>
<path d="M274.4,19.1 289.4,14.2 299.4,6.7 319.4,9.2 329.4,11.7 309.4,14.2 284.4,21.6Z" fill="none" stroke="#777" stroke-width="0.6" vector-effect="non-scaling-stroke" stroke-linejoin="round"/>
<path d="M394.4,51.6 399.4,39.1 406.9,30.1 414.4,33.1 405.4,41.6 399.4,51.6Z" fill="none" stroke="#777" stroke-width="0.6" vector-effect="non-scaling-stroke" stroke-linejoin="round"/>
<path d="M449.5,93.9 464.5,91.4 474.5,103.9 484.5,118.9 489.5,128.8 487.0,141.3 482.0,133.8 474.5,118.9 464.5,111.4 452.0,101.4Z" fill="none" stroke="#777" stroke-width="0.6" vector-effect="non-scaling-stroke" stroke-linejoin="round"/>
</svg>
<svg x="547.3" y="9.3" width="389.80000000000007" height="251.2" viewBox="0 0 1024 658" preserveAspectRatio="none" overflow="hidden">
<path d="M47.7,123.5 340.7,123.5 682.2,123.5 933.3,123.5 933.3,212.0 923.3,222.0 899.8,235.4 883.1,245.4 876.4,258.7 849.6,272.1 822.8,278.8 811.8,290.1 806.7,300.0 796.7,319.9 791.7,349.9 776.7,369.8 761.6,374.8 731.6,339.9 721.6,349.9 701.6,379.8 676.6,402.3 636.6,397.3 616.6,399.8 611.6,364.8 586.5,339.9 561.5,319.9 511.5,310.0 449.5,305.0 399.4,310.0 349.4,319.9 299.4,354.9 284.4,384.8 269.4,389.8 234.3,379.8 209.3,389.8 199.3,397.3 184.3,392.3 164.3,379.8 144.3,369.8 124.3,354.9 109.3,334.9 109.7,334.5 92.9,305.5 81.2,268.7 79.6,245.4 87.9,202.0 76.2,171.9 49.4,138.6Z" fill="#f2f5fd"/>
<path d="M139.8,123.5 340.7,123.5 340.7,148.6 267.0,146.9 233.6,148.6 200.1,146.9 159.9,145.2 139.8,141.9Z" fill="#b4c8f6"/>
<path d="M340.7,123.5 682.2,123.5 682.2,155.2 642.0,158.6 608.5,155.2 575.1,158.6 528.2,148.6 474.6,146.9 407.7,148.6 340.7,148.6Z" fill="#b4c8f6"/>
<path d="M682.2,123.5 933.3,123.5 933.3,198.6 899.8,175.3 869.7,195.3 842.9,208.7 799.4,198.6 765.9,192.0 735.8,192.0 715.7,185.3 702.3,158.6 682.2,155.2Z" fill="#b4c8f6"/>
<path d="M765.9,131.9 816.1,128.5 869.7,131.9 916.6,135.2 923.3,161.9 899.8,168.6 869.7,188.6 849.6,205.3 822.8,208.7 796.0,195.3 782.6,168.6 765.9,151.9Z" fill="#86a7f3"/>
<path d="M481.3,125.2 575.1,125.2 581.8,138.6 555.0,151.9 521.5,148.6 488.0,141.9Z" fill="#86a7f3"/>
<path d="M407.7,161.9 481.3,158.6 528.2,171.9 528.2,212.0 514.8,222.0 491.4,212.0 451.2,212.0 414.4,202.0 401.0,185.3Z" fill="#d6e1fa"/>
<path d="M434.4,168.6 481.3,165.3 518.1,178.6 518.1,205.3 498.1,212.0 467.9,208.7 441.1,195.3 424.4,188.6Z" fill="#b4c8f6"/>
<path d="M135.0,150.0 260.0,155.0 340.0,160.0 340.0,185.0 250.0,195.0 215.0,205.0 210.0,260.0 190.0,290.0 160.0,300.0 135.0,280.0Z" fill="#d6e1fa"/>
<path d="M264.0,161.0 340.0,161.0 340.0,180.0 264.0,182.0Z" fill="#d6e1fa"/>
<path d="M340.7,161.9 407.7,165.3 407.7,212.0 374.2,238.7 340.7,238.7Z" fill="#d6e1fa"/>
<path d="M782.6,185.3 822.8,212.0 869.7,212.0 899.8,208.7 923.3,212.0 923.3,222.0 883.1,245.4 849.6,268.7 822.8,275.4 792.7,255.4 782.6,222.0Z" fill="#d6e1fa"/>
<path d="M796.0,222.0 836.2,218.7 869.7,222.0 889.8,222.0 869.7,245.4 829.5,255.4 802.7,245.4Z" fill="#b4c8f6"/>
<path d="M682.2,255.4 749.2,252.0 765.9,278.8 749.2,312.1 722.4,334.5 682.2,334.5Z" fill="#d6e1fa"/>
<path d="M635.3,298.8 682.2,298.8 682.2,334.5 635.3,334.5Z" fill="#d6e1fa"/>
<path d="M682.2,298.8 709.0,298.8 719.0,325.5 712.3,334.5 682.2,334.5Z" fill="#b4c8f6"/>
<path d="M47.7,125.2 126.4,125.2 146.5,141.9 146.5,161.9 139.8,195.3 139.8,245.4 133.1,268.7 146.5,298.8 173.3,334.5 109.7,334.5 92.9,305.5 81.2,268.7 79.6,245.4 87.9,202.0 76.2,171.9 49.4,138.6Z" fill="#b4c8f6"/>
<path d="M49.4,131.9 92.9,128.5 126.4,131.9 133.1,148.6 109.7,158.6 139.8,165.3 136.5,222.0 126.4,245.4 139.8,272.1 159.9,312.1 173.3,334.5 109.7,334.5 92.9,305.5 81.2,268.7 79.6,245.4 87.9,202.0 76.2,168.6 52.8,145.2Z" fill="#86a7f3"/>
<path d="M82.9,161.9 133.1,161.9 136.5,222.0 126.4,238.7 99.6,238.7 76.2,252.0 82.9,268.7 92.9,305.5 109.7,334.5 159.9,334.5 149.9,305.5 136.5,278.8 126.4,258.7 99.6,245.4 86.2,232.0 87.9,202.0 79.6,178.6Z" fill="#4d80f4"/>
<path d="M87.9,202.0 106.3,200.3 133.1,208.7 133.1,228.7 109.7,232.0 89.6,232.0Z" fill="#000c92"/>
<path d="M76.2,255.4 99.6,258.7 119.7,272.1 136.5,292.1 153.2,312.1 166.6,334.5 113.0,334.5 96.3,308.8 86.2,285.4 81.2,268.7Z" fill="#000c92"/>
<path d="M49.4,123.5 69.5,123.5 69.5,131.9 49.4,131.9Z" fill="#000c92"/>
<path d="M92.9,128.5 109.7,128.5 126.4,138.6 126.4,146.9 99.6,146.9 92.9,138.6Z" fill="#000c92"/>
<path d="M153.2,123.5 196.7,123.5 200.1,138.6 193.4,146.9 166.6,145.2 156.6,138.6Z" fill="#000c92"/>
<path d="M99.6,170.3 113.0,168.6 113.0,178.6 99.6,180.3Z" fill="#1650ea"/>
<path d="M140.0,158.0 214.0,158.0 214.0,205.0 200.0,235.0 170.0,240.0 150.0,230.0Z" fill="#86a7f3"/>
<path d="M160.0,160.0 212.0,160.0 212.0,200.0 185.0,215.0 165.0,200.0Z" fill="#4d80f4"/>
<path d="M168.0,163.0 205.0,163.0 205.0,193.0 190.0,203.0 172.0,195.0Z" fill="#4d80f4"/>
<path d="M186.7,222.0 200.1,222.0 200.1,232.0 186.7,232.0Z" fill="#000c92"/>
<path d="M352.0,284.0 366.0,284.0 366.0,289.0 352.0,289.0Z" fill="#000c92"/>
<path d="M355.0,279.0 359.0,279.0 359.0,296.0 355.0,296.0Z" fill="#000c92"/>
<path d="M260.3,275.4 287.1,277.1 287.1,295.4 263.7,295.4Z" fill="#4d80f4"/>
<path d="M233.6,235.4 250.3,235.4 250.3,243.7 233.6,243.7Z" fill="#b4c8f6"/>
<path d="M313.9,272.1 340.7,268.7 340.7,285.4 320.6,285.4Z" fill="#b4c8f6"/>
<path d="M200.1,161.9 240.3,161.9 253.6,185.3 233.6,195.3 213.5,188.6Z" fill="#86a7f3"/>
<path d="M273.7,165.3 300.5,161.9 320.6,168.6 334.0,175.3 327.3,183.6 300.5,183.6 280.4,178.6Z" fill="#b4c8f6"/>
<path d="M287.1,238.7 320.6,232.0 334.0,252.0 320.6,265.4 293.8,258.7Z" fill="#d6e1fa"/>
<path d="M240.3,298.8 253.6,298.8 253.6,312.1 240.3,312.1Z" fill="#86a7f3"/>
<path d="M81.7,290.0 164.3,290.0 174.3,314.9 189.3,339.9 209.3,364.8 209.3,389.8 199.3,397.3 184.3,392.3 164.3,379.8 144.3,369.8 124.3,354.9 109.3,334.9 94.3,310.0Z" fill="#86a7f3"/>
<path d="M86.8,290.0 149.3,290.0 164.3,314.9 179.3,339.9 191.8,364.8 191.8,377.3 179.3,379.8 164.3,372.3 149.3,359.8 129.3,344.9 114.3,324.9 99.3,305.0Z" fill="#000c92"/>
<path d="M119.3,319.9 139.3,319.9 149.3,344.9 129.3,344.9Z" fill="#4d80f4"/>
<path d="M164.3,369.8 179.3,369.8 189.3,384.8 174.3,387.3Z" fill="#4d80f4"/>
<path d="M229.3,324.9 249.3,324.9 251.9,339.9 231.8,339.9Z" fill="#4d80f4"/>
<path d="M349.4,290.0 359.4,290.0 359.4,300.0 349.4,300.0Z" fill="#000c92"/>
<path d="M366.9,305.0 371.9,305.0 371.9,312.5 366.9,312.5Z" fill="#000c92"/>
<path d="M454.5,208.7 491.4,208.7 514.8,218.7 514.8,242.0 494.7,245.4 467.9,235.4Z" fill="#4d80f4"/>
<path d="M496.4,218.7 511.4,218.7 511.4,232.0 496.4,232.0Z" fill="#000c92"/>
<path d="M424.4,255.4 447.8,255.4 447.8,272.1 424.4,272.1Z" fill="#4d80f4"/>
<path d="M427.7,178.6 441.1,176.9 441.1,192.0 427.7,192.0Z" fill="#4d80f4"/>
<path d="M360.8,181.9 374.2,181.9 374.2,195.3 360.8,195.3Z" fill="#4d80f4"/>
<path d="M571.7,173.6 581.8,173.6 581.8,183.6 571.7,183.6Z" fill="#4d80f4"/>
<path d="M367.5,305.5 371.5,305.5 371.5,312.8 367.5,312.8Z" fill="#000c92"/>
<path d="M494.7,238.7 528.2,232.0 575.1,225.3 608.5,235.4 615.2,262.1 608.5,298.8 581.8,318.8 541.6,322.1 514.8,305.5 501.4,272.1Z" fill="#86a7f3"/>
<path d="M504.8,238.7 528.2,238.7 581.8,245.4 605.2,265.4 608.5,292.1 588.5,312.1 558.3,315.5 528.2,308.8 508.1,285.4Z" fill="#1650ea"/>
<path d="M516.5,245.4 541.6,245.4 561.7,255.4 581.8,258.7 585.1,278.8 575.1,298.8 555.0,302.1 534.9,292.1 518.1,272.1Z" fill="#000c92"/>
<path d="M528.2,131.9 575.1,131.9 595.1,138.6 581.8,151.9 548.3,151.9Z" fill="#86a7f3"/>
<path d="M483.0,123.5 491.4,123.5 491.4,131.9 483.0,131.9Z" fill="#000c92"/>
<path d="M705.6,192.0 749.2,192.0 796.0,198.6 796.0,222.0 782.6,245.4 749.2,258.7 715.7,258.7 705.6,238.7Z" fill="#4d80f4"/>
<path d="M709.0,195.3 779.3,195.3 792.7,208.7 782.6,232.0 749.2,245.4 715.7,245.4 709.0,222.0Z" fill="#1650ea"/>
<path d="M729.1,198.6 777.6,198.6 777.6,225.3 735.8,225.3 725.7,218.7 715.7,228.7 714.0,218.7Z" fill="#000c92"/>
<path d="M822.8,145.2 856.3,141.9 869.7,161.9 863.0,192.0 849.6,205.3 832.9,198.6 826.2,171.9Z" fill="#4d80f4"/>
<path d="M925.9,151.9 934.0,151.9 934.0,192.0 925.9,192.0Z" fill="#1650ea"/>
<path d="M927.3,151.9 934.0,151.9 934.0,188.6 927.3,188.6Z" fill="#000c92"/>
<path d="M925.9,192.0 934.0,192.0 934.0,215.3 925.9,215.3Z" fill="#4d80f4"/>
<path d="M782.6,212.0 816.1,207.0 849.6,202.0 869.7,188.6 889.8,175.3 916.6,168.6 916.6,181.9 889.8,192.0 869.7,208.7 842.9,218.7 809.4,222.0 782.6,222.0Z" fill="#ffffff"/>
<path d="M621.6,339.9 641.6,324.9 661.6,314.9 681.6,307.5 701.6,310.0 716.6,319.9 721.6,339.9 706.6,354.9 701.6,374.8 691.6,389.8 676.6,399.8 656.6,397.3 636.6,394.8 616.6,399.8 616.6,379.8 621.6,359.8Z" fill="#86a7f3"/>
<path d="M661.6,317.4 691.6,312.5 711.6,324.9 706.6,344.9 676.6,344.9Z" fill="#4d80f4"/>
<path d="M671.6,369.8 696.6,369.8 694.1,389.8 676.6,392.3Z" fill="#4d80f4"/>
<path d="M531.5,290.0 586.5,290.0 571.5,310.0 541.5,310.0Z" fill="#000c92"/>
<path d="M511.5,290.0 611.6,290.0 601.6,310.0 571.5,319.9 531.5,314.9 511.5,305.0Z" fill="#1650ea"/>
<path d="M531.5,290.0 586.5,290.0 571.5,307.5 541.5,307.5Z" fill="#000c92"/>
<path d="M596.6,429.7 631.6,429.7 631.6,437.2 596.6,437.2Z" fill="#4d80f4"/>
<path d="M676.6,439.7 696.6,439.7 696.6,449.6 676.6,449.6Z" fill="#86a7f3"/>
<path d="M666.6,429.7 671.6,429.7 671.6,439.7 666.6,439.7Z" fill="#4d80f4"/>
<path d="M761.6,339.9 791.7,339.9 791.7,379.8 761.6,379.8Z" fill="#b4c8f6"/>
<path d="M781.7,290.0 796.7,290.0 796.7,310.0 781.7,310.0Z" fill="#b4c8f6"/>
<path d="M-0.8,98.9 9.2,106.4 19.2,113.9 29.2,123.8 34.2,131.3 26.7,136.3 24.2,141.3 39.2,146.3 54.2,151.3 69.2,158.8 79.2,168.7 86.8,178.7 89.3,198.6 86.8,218.6 81.7,238.5 76.7,253.5 79.2,268.4 86.8,288.4 94.3,303.3 104.3,318.3 114.3,329.3 144.3,359.2 169.3,379.2 184.3,394.2 194.3,414.1 204.3,429.1 211.8,443.1 221.8,449.1 231.8,461.6 234.3,469.0 221.8,471.5 229.3,479.0 244.3,486.5 256.9,496.5 259.4,504.0 261.9,516.5 271.9,521.5 281.9,528.9 289.4,533.9 294.4,541.4 299.4,536.4 294.4,528.9 286.9,521.5 276.9,509.0 269.4,494.0 259.4,481.5 249.3,471.5 246.8,459.1 244.3,441.6 239.3,429.1 234.3,421.6 224.3,416.6 221.8,414.1 229.3,415.1 244.3,419.1 249.3,434.1 259.4,449.1 271.9,461.6 279.4,469.0 289.4,479.0 299.4,491.5 304.4,501.5 314.4,509.0 324.4,516.5 339.4,528.9 349.4,541.4 356.9,553.9 359.4,563.9 356.9,576.4 361.9,586.3 374.4,596.3 389.4,606.3 404.4,616.3 424.5,626.3 449.5,633.8 474.5,641.2 499.5,646.2 511.5,642.7 531.5,648.7 541.5,658.7" fill="none" stroke="#777" stroke-width="0.6" vector-effect="non-scaling-stroke" stroke-linejoin="round"/>
<path d="M511.5,449.1 531.5,441.6 551.5,444.1 566.5,449.1 586.5,446.6 594.0,436.6 611.6,431.6 636.6,431.6 651.6,436.6 661.6,441.6 671.6,436.6 681.6,441.6 691.6,449.1 694.1,464.1 701.6,479.0 711.6,499.0 716.6,506.5 724.1,504.0 729.1,494.0 726.6,474.0 716.6,449.1 711.6,429.1 716.6,414.1 731.6,399.2 751.6,384.2 766.7,374.2 781.7,364.2 791.7,354.3 796.7,339.3 791.7,329.3 781.7,318.3 786.7,308.3 796.7,298.4 806.7,293.4 821.7,283.4 836.7,278.4 856.7,268.4 869.2,261.0 876.7,248.5 891.7,238.5 911.7,231.0 931.8,226.1 946.8,221.1 961.8,218.6" fill="none" stroke="#777" stroke-width="0.6" vector-effect="non-scaling-stroke" stroke-linejoin="round"/>
<path d="M511.5,449.1 494.5,454.1 479.5,464.1 474.5,479.0 477.0,494.0 472.0,514.0 469.5,533.9 472.0,553.9 479.5,573.9 492.0,588.8 504.5,601.3 511.5,606.3 531.5,603.8 551.5,603.8 566.5,593.8 574.0,578.9 581.5,568.9 596.6,563.9 616.6,561.4 631.6,563.9 629.1,578.9 621.6,593.8 616.6,608.8 611.6,623.8 604.1,638.7 606.6,648.7 631.6,646.2 656.6,648.7 681.6,658.7" fill="none" stroke="#777" stroke-width="0.6" vector-effect="non-scaling-stroke" stroke-linejoin="round"/>
<path d="M661.6,558.9 676.6,548.9 696.6,538.9 721.6,543.9 741.6,551.4 761.6,558.9 776.7,568.9 791.7,573.9 811.7,581.3 821.7,586.3 811.7,586.3 791.7,586.3 776.7,586.3 766.7,581.3 761.6,573.9 746.6,568.9 726.6,563.9 711.6,558.9 696.6,553.9 681.6,553.9Z" fill="none" stroke="#777" stroke-width="0.6" vector-effect="non-scaling-stroke" stroke-linejoin="round"/>
<path d="M686.6,557.9 692.6,561.9 689.6,564.9 685.6,561.4Z" fill="none" stroke="#777" stroke-width="0.6" vector-effect="non-scaling-stroke" stroke-linejoin="round"/>
<path d="M831.7,588.8 856.7,586.3 876.7,588.8 891.7,596.3 901.7,606.3 896.7,611.3 876.7,608.8 861.7,613.8 851.7,616.3 836.7,611.3 816.7,608.8 821.7,603.8 836.7,598.8Z" fill="none" stroke="#777" stroke-width="0.6" vector-effect="non-scaling-stroke" stroke-linejoin="round"/>
<path d="M756.6,608.8 771.7,606.3 786.7,611.3 776.7,616.3 761.6,614.8Z" fill="none" stroke="#777" stroke-width="0.6" vector-effect="non-scaling-stroke" stroke-linejoin="round"/>
<path d="M919.2,608.8 936.8,606.3 941.8,611.3 931.8,614.8 919.2,612.8Z" fill="none" stroke="#777" stroke-width="0.6" vector-effect="non-scaling-stroke" stroke-linejoin="round"/>
<path d="M751.6,489.0 766.7,484.0 774.2,494.0 771.7,499.0" fill="none" stroke="#777" stroke-width="0.6" vector-effect="non-scaling-stroke" stroke-linejoin="round"/>
<path d="M756.6,514.0 761.6,528.9 766.7,523.9Z" fill="none" stroke="#777" stroke-width="0.6" vector-effect="non-scaling-stroke" stroke-linejoin="round"/>
<path d="M781.7,504.0 791.7,514.0 801.7,528.9 811.7,543.9 821.7,548.9" fill="none" stroke="#777" stroke-width="0.6" vector-effect="non-scaling-stroke" stroke-linejoin="round"/>
<path d="M826.7,568.9 831.7,566.4" fill="none" stroke="#777" stroke-width="0.6" vector-effect="non-scaling-stroke" stroke-linejoin="round"/>
<path d="M999.3,636.2 1004.3,641.2" fill="none" stroke="#777" stroke-width="0.6" vector-effect="non-scaling-stroke" stroke-linejoin="round"/>
<path d="M860.0,190.0 880.0,172.0 895.0,163.0 908.0,153.0 933.0,143.0 958.0,141.0 989.0,144.0 1030.0,147.0" fill="none" stroke="#777" stroke-width="0.6" vector-effect="non-scaling-stroke" stroke-linejoin="round"/>
<path d="M936.8,233.5 951.8,223.6 971.8,218.6 991.8,208.6 1006.8,203.6 1016.8,193.7 1021.8,208.6 1006.8,218.6 986.8,226.1 961.8,233.5 941.8,241.0Z" fill="none" stroke="#777" stroke-width="0.6" vector-effect="non-scaling-stroke" stroke-linejoin="round"/>
<path d="M961.8,148.8 981.8,153.8 996.8,158.8 981.8,161.2 966.8,156.3Z" fill="none" stroke="#777" stroke-width="0.6" vector-effect="non-scaling-stroke" stroke-linejoin="round"/>
<path d="M951.8,163.7 971.8,168.7 991.8,178.7 1006.8,188.7 1016.8,196.1" fill="none" stroke="#777" stroke-width="0.6" vector-effect="non-scaling-stroke" stroke-linejoin="round"/>
<path d="M511.5,9.2 521.5,19.1 541.5,24.1 551.5,39.1 571.5,44.1 596.6,49.1 621.6,56.5 646.6,64.0 671.6,69.0 696.6,74.0 701.6,88.9 696.6,98.9 706.6,106.4 716.6,106.4 731.6,108.9 736.6,118.9 731.6,126.3 746.6,118.9 751.6,108.9 746.6,98.9 741.6,86.5 746.6,79.0 766.7,69.0 776.7,59.0 781.7,49.1 776.7,34.1 766.7,24.1 756.6,19.1 754.1,11.7 766.7,4.2 766.7,-3.3" fill="none" stroke="#777" stroke-width="0.6" vector-effect="non-scaling-stroke" stroke-linejoin="round"/>
<path d="M511.5,9.2 509.0,-0.8" fill="none" stroke="#777" stroke-width="0.6" vector-effect="non-scaling-stroke" stroke-linejoin="round"/>
<path d="M731.6,54.0 741.6,51.6 746.6,59.0 736.6,61.5Z" fill="none" stroke="#777" stroke-width="0.6" vector-effect="non-scaling-stroke" stroke-linejoin="round"/>
<path d="M701.6,101.4 711.6,98.9 719.1,103.9 709.1,106.4Z" fill="none" stroke="#777" stroke-width="0.6" vector-effect="non-scaling-stroke" stroke-linejoin="round"/>
<path d="M886.7,-3.3 891.7,9.2 906.7,19.1 921.7,24.1 941.8,14.2 946.8,4.2 946.8,-3.3" fill="none" stroke="#777" stroke-width="0.6" vector-effect="non-scaling-stroke" stroke-linejoin="round"/>
<path d="M966.8,1.7 981.8,19.1 991.8,34.1 1001.8,44.1 1001.8,54.0 1011.8,64.0 1026.8,66.5" fill="none" stroke="#777" stroke-width="0.6" vector-effect="non-scaling-stroke" stroke-linejoin="round"/>
<path d="M556.5,193.7 576.5,183.7 601.6,171.2 616.6,163.7 636.6,166.2 646.6,173.7 656.6,183.7 661.6,193.7 651.6,198.6 626.6,193.7 616.6,196.1 611.6,186.2 601.6,183.7 586.5,186.2 571.5,191.2Z" fill="none" stroke="#777" stroke-width="0.6" vector-effect="non-scaling-stroke" stroke-linejoin="round"/>
<path d="M616.6,208.6 626.6,203.6 636.6,208.6 641.6,218.6 639.1,233.5 631.6,248.5 626.6,263.5 619.1,258.5 616.6,238.5 619.1,223.6Z" fill="none" stroke="#777" stroke-width="0.6" vector-effect="non-scaling-stroke" stroke-linejoin="round"/>
<path d="M669.0,204.7 696.3,201.3 716.8,211.5 733.8,225.2 730.4,235.4 709.9,232.0 699.7,245.7 689.5,235.4 675.8,218.4Z" fill="none" stroke="#777" stroke-width="0.6" vector-effect="non-scaling-stroke" stroke-linejoin="round"/>
<path d="M682.0,268.0 700.0,262.0 725.0,254.0 750.0,247.0 752.0,252.0 728.0,260.0 703.0,268.0 685.0,272.0Z" fill="none" stroke="#777" stroke-width="0.6" vector-effect="non-scaling-stroke" stroke-linejoin="round"/>
<path d="M745.0,238.0 770.0,232.0 788.0,234.0 775.0,242.0 752.0,244.0Z" fill="none" stroke="#777" stroke-width="0.6" vector-effect="non-scaling-stroke" stroke-linejoin="round"/>
<path d="M274.4,19.1 289.4,14.2 299.4,6.7 319.4,9.2 329.4,11.7 309.4,14.2 284.4,21.6Z" fill="none" stroke="#777" stroke-width="0.6" vector-effect="non-scaling-stroke" stroke-linejoin="round"/>
<path d="M394.4,51.6 399.4,39.1 406.9,30.1 414.4,33.1 405.4,41.6 399.4,51.6Z" fill="none" stroke="#777" stroke-width="0.6" vector-effect="non-scaling-stroke" stroke-linejoin="round"/>
<path d="M449.5,93.9 464.5,91.4 474.5,103.9 484.5,118.9 489.5,128.8 487.0,141.3 482.0,133.8 474.5,118.9 464.5,111.4 452.0,101.4Z" fill="none" stroke="#777" stroke-width="0.6" vector-effect="non-scaling-stroke" stroke-linejoin="round"/>
</svg>
<svg x="25.5" y="342.3" width="389.8" height="249.7" viewBox="0 0 1024 658" preserveAspectRatio="none" overflow="hidden">
<path d="M47.7,123.5 340.7,123.5 682.2,123.5 933.3,123.5 933.3,212.0 923.3,222.0 899.8,235.4 883.1,245.4 876.4,258.7 849.6,272.1 822.8,278.8 811.8,290.1 806.7,300.0 796.7,319.9 791.7,349.9 776.7,369.8 761.6,374.8 731.6,339.9 721.6,349.9 701.6,379.8 676.6,402.3 636.6,397.3 616.6,399.8 611.6,364.8 586.5,339.9 561.5,319.9 511.5,310.0 449.5,305.0 399.4,310.0 349.4,319.9 299.4,354.9 284.4,384.8 269.4,389.8 234.3,379.8 209.3,389.8 199.3,397.3 184.3,392.3 164.3,379.8 144.3,369.8 124.3,354.9 109.3,334.9 109.7,334.5 92.9,305.5 81.2,268.7 79.6,245.4 87.9,202.0 76.2,171.9 49.4,138.6Z" fill="#f2f5fd"/>
<path d="M139.8,123.5 340.7,123.5 340.7,148.6 267.0,146.9 233.6,148.6 200.1,146.9 159.9,145.2 139.8,141.9Z" fill="#b4c8f6"/>
<path d="M340.7,123.5 682.2,123.5 682.2,155.2 642.0,158.6 608.5,155.2 575.1,158.6 528.2,148.6 474.6,146.9 407.7,148.6 340.7,148.6Z" fill="#b4c8f6"/>
<path d="M682.2,123.5 933.3,123.5 933.3,198.6 899.8,175.3 869.7,195.3 842.9,208.7 799.4,198.6 765.9,192.0 735.8,192.0 715.7,185.3 702.3,158.6 682.2,155.2Z" fill="#b4c8f6"/>
<path d="M765.9,131.9 816.1,128.5 869.7,131.9 916.6,135.2 923.3,161.9 899.8,168.6 869.7,188.6 849.6,205.3 822.8,208.7 796.0,195.3 782.6,168.6 765.9,151.9Z" fill="#86a7f3"/>
<path d="M481.3,125.2 575.1,125.2 581.8,138.6 555.0,151.9 521.5,148.6 488.0,141.9Z" fill="#86a7f3"/>
<path d="M407.7,161.9 481.3,158.6 528.2,171.9 528.2,212.0 514.8,222.0 491.4,212.0 451.2,212.0 414.4,202.0 401.0,185.3Z" fill="#d6e1fa"/>
<path d="M434.4,168.6 481.3,165.3 518.1,178.6 518.1,205.3 498.1,212.0 467.9,208.7 441.1,195.3 424.4,188.6Z" fill="#b4c8f6"/>
<path d="M135.0,150.0 260.0,155.0 340.0,160.0 340.0,185.0 250.0,195.0 215.0,205.0 210.0,260.0 190.0,290.0 160.0,300.0 135.0,280.0Z" fill="#d6e1fa"/>
<path d="M264.0,161.0 340.0,161.0 340.0,180.0 264.0,182.0Z" fill="#d6e1fa"/>
<path d="M340.7,161.9 407.7,165.3 407.7,212.0 374.2,238.7 340.7,238.7Z" fill="#d6e1fa"/>
<path d="M782.6,185.3 822.8,212.0 869.7,212.0 899.8,208.7 923.3,212.0 923.3,222.0 883.1,245.4 849.6,268.7 822.8,275.4 792.7,255.4 782.6,222.0Z" fill="#d6e1fa"/>
<path d="M796.0,222.0 836.2,218.7 869.7,222.0 889.8,222.0 869.7,245.4 829.5,255.4 802.7,245.4Z" fill="#b4c8f6"/>
<path d="M682.2,255.4 749.2,252.0 765.9,278.8 749.2,312.1 722.4,334.5 682.2,334.5Z" fill="#d6e1fa"/>
<path d="M635.3,298.8 682.2,298.8 682.2,334.5 635.3,334.5Z" fill="#d6e1fa"/>
<path d="M682.2,298.8 709.0,298.8 719.0,325.5 712.3,334.5 682.2,334.5Z" fill="#b4c8f6"/>
<path d="M47.7,125.2 126.4,125.2 146.5,141.9 146.5,161.9 139.8,195.3 139.8,245.4 133.1,268.7 146.5,298.8 173.3,334.5 109.7,334.5 92.9,305.5 81.2,268.7 79.6,245.4 87.9,202.0 76.2,171.9 49.4,138.6Z" fill="#b4c8f6"/>
<path d="M49.4,131.9 92.9,128.5 126.4,131.9 133.1,148.6 109.7,158.6 139.8,165.3 136.5,222.0 126.4,245.4 139.8,272.1 159.9,312.1 173.3,334.5 109.7,334.5 92.9,305.5 81.2,268.7 79.6,245.4 87.9,202.0 76.2,168.6 52.8,145.2Z" fill="#86a7f3"/>
<path d="M82.9,161.9 133.1,161.9 136.5,222.0 126.4,238.7 99.6,238.7 76.2,252.0 82.9,268.7 92.9,305.5 109.7,334.5 159.9,334.5 149.9,305.5 136.5,278.8 126.4,258.7 99.6,245.4 86.2,232.0 87.9,202.0 79.6,178.6Z" fill="#4d80f4"/>
<path d="M87.9,202.0 106.3,200.3 133.1,208.7 133.1,228.7 109.7,232.0 89.6,232.0Z" fill="#000c92"/>
<path d="M76.2,255.4 99.6,258.7 119.7,272.1 136.5,292.1 153.2,312.1 166.6,334.5 113.0,334.5 96.3,308.8 86.2,285.4 81.2,268.7Z" fill="#000c92"/>
<path d="M49.4,123.5 69.5,123.5 69.5,131.9 49.4,131.9Z" fill="#000c92"/>
<path d="M92.9,128.5 109.7,128.5 126.4,138.6 126.4,146.9 99.6,146.9 92.9,138.6Z" fill="#000c92"/>
<path d="M153.2,123.5 196.7,123.5 200.1,138.6 193.4,146.9 166.6,145.2 156.6,138.6Z" fill="#000c92"/>
<path d="M99.6,170.3 113.0,168.6 113.0,178.6 99.6,180.3Z" fill="#1650ea"/>
<path d="M140.0,158.0 214.0,158.0 214.0,205.0 200.0,235.0 170.0,240.0 150.0,230.0Z" fill="#86a7f3"/>
<path d="M160.0,160.0 212.0,160.0 212.0,200.0 185.0,215.0 165.0,200.0Z" fill="#4d80f4"/>
<path d="M168.0,163.0 205.0,163.0 205.0,193.0 190.0,203.0 172.0,195.0Z" fill="#4d80f4"/>
<path d="M186.7,222.0 200.1,222.0 200.1,232.0 186.7,232.0Z" fill="#000c92"/>
<path d="M352.0,284.0 366.0,284.0 366.0,289.0 352.0,289.0Z" fill="#000c92"/>
<path d="M355.0,279.0 359.0,279.0 359.0,296.0 355.0,296.0Z" fill="#000c92"/>
<path d="M260.3,275.4 287.1,277.1 287.1,295.4 263.7,295.4Z" fill="#4d80f4"/>
<path d="M233.6,235.4 250.3,235.4 250.3,243.7 233.6,243.7Z" fill="#b4c8f6"/>
<path d="M313.9,272.1 340.7,268.7 340.7,285.4 320.6,285.4Z" fill="#b4c8f6"/>
<path d="M200.1,161.9 240.3,161.9 253.6,185.3 233.6,195.3 213.5,188.6Z" fill="#86a7f3"/>
<path d="M273.7,165.3 300.5,161.9 320.6,168.6 334.0,175.3 327.3,183.6 300.5,183.6 280.4,178.6Z" fill="#b4c8f6"/>
<path d="M287.1,238.7 320.6,232.0 334.0,252.0 320.6,265.4 293.8,258.7Z" fill="#d6e1fa"/>
<path d="M240.3,298.8 253.6,298.8 253.6,312.1 240.3,312.1Z" fill="#86a7f3"/>
<path d="M81.7,290.0 164.3,290.0 174.3,314.9 189.3,339.9 209.3,364.8 209.3,389.8 199.3,397.3 184.3,392.3 164.3,379.8 144.3,369.8 124.3,354.9 109.3,334.9 94.3,310.0Z" fill="#86a7f3"/>
<path d="M86.8,290.0 149.3,290.0 164.3,314.9 179.3,339.9 191.8,364.8 191.8,377.3 179.3,379.8 164.3,372.3 149.3,359.8 129.3,344.9 114.3,324.9 99.3,305.0Z" fill="#000c92"/>
<path d="M119.3,319.9 139.3,319.9 149.3,344.9 129.3,344.9Z" fill="#4d80f4"/>
<path d="M164.3,369.8 179.3,369.8 189.3,384.8 174.3,387.3Z" fill="#4d80f4"/>
<path d="M229.3,324.9 249.3,324.9 251.9,339.9 231.8,339.9Z" fill="#4d80f4"/>
<path d="M349.4,290.0 359.4,290.0 359.4,300.0 349.4,300.0Z" fill="#000c92"/>
<path d="M366.9,305.0 371.9,305.0 371.9,312.5 366.9,312.5Z" fill="#000c92"/>
<path d="M454.5,208.7 491.4,208.7 514.8,218.7 514.8,242.0 494.7,245.4 467.9,235.4Z" fill="#4d80f4"/>
<path d="M496.4,218.7 511.4,218.7 511.4,232.0 496.4,232.0Z" fill="#000c92"/>
<path d="M424.4,255.4 447.8,255.4 447.8,272.1 424.4,272.1Z" fill="#4d80f4"/>
<path d="M427.7,178.6 441.1,176.9 441.1,192.0 427.7,192.0Z" fill="#4d80f4"/>
<path d="M360.8,181.9 374.2,181.9 374.2,195.3 360.8,195.3Z" fill="#4d80f4"/>
<path d="M571.7,173.6 581.8,173.6 581.8,183.6 571.7,183.6Z" fill="#4d80f4"/>
<path d="M367.5,305.5 371.5,305.5 371.5,312.8 367.5,312.8Z" fill="#000c92"/>
<path d="M494.7,238.7 528.2,232.0 575.1,225.3 608.5,235.4 615.2,262.1 608.5,298.8 581.8,318.8 541.6,322.1 514.8,305.5 501.4,272.1Z" fill="#86a7f3"/>
<path d="M504.8,238.7 528.2,238.7 581.8,245.4 605.2,265.4 608.5,292.1 588.5,312.1 558.3,315.5 528.2,308.8 508.1,285.4Z" fill="#1650ea"/>
<path d="M516.5,245.4 541.6,245.4 561.7,255.4 581.8,258.7 585.1,278.8 575.1,298.8 555.0,302.1 534.9,292.1 518.1,272.1Z" fill="#000c92"/>
<path d="M528.2,131.9 575.1,131.9 595.1,138.6 581.8,151.9 548.3,151.9Z" fill="#86a7f3"/>
<path d="M483.0,123.5 491.4,123.5 491.4,131.9 483.0,131.9Z" fill="#000c92"/>
<path d="M705.6,192.0 749.2,192.0 796.0,198.6 796.0,222.0 782.6,245.4 749.2,258.7 715.7,258.7 705.6,238.7Z" fill="#4d80f4"/>
<path d="M709.0,195.3 779.3,195.3 792.7,208.7 782.6,232.0 749.2,245.4 715.7,245.4 709.0,222.0Z" fill="#1650ea"/>
<path d="M729.1,198.6 777.6,198.6 777.6,225.3 735.8,225.3 725.7,218.7 715.7,228.7 714.0,218.7Z" fill="#000c92"/>
<path d="M822.8,145.2 856.3,141.9 869.7,161.9 863.0,192.0 849.6,205.3 832.9,198.6 826.2,171.9Z" fill="#4d80f4"/>
<path d="M925.9,151.9 934.0,151.9 934.0,192.0 925.9,192.0Z" fill="#1650ea"/>
<path d="M927.3,151.9 934.0,151.9 934.0,188.6 927.3,188.6Z" fill="#000c92"/>
<path d="M925.9,192.0 934.0,192.0 934.0,215.3 925.9,215.3Z" fill="#4d80f4"/>
<path d="M782.6,212.0 816.1,207.0 849.6,202.0 869.7,188.6 889.8,175.3 916.6,168.6 916.6,181.9 889.8,192.0 869.7,208.7 842.9,218.7 809.4,222.0 782.6,222.0Z" fill="#ffffff"/>
<path d="M621.6,339.9 641.6,324.9 661.6,314.9 681.6,307.5 701.6,310.0 716.6,319.9 721.6,339.9 706.6,354.9 701.6,374.8 691.6,389.8 676.6,399.8 656.6,397.3 636.6,394.8 616.6,399.8 616.6,379.8 621.6,359.8Z" fill="#86a7f3"/>
<path d="M661.6,317.4 691.6,312.5 711.6,324.9 706.6,344.9 676.6,344.9Z" fill="#4d80f4"/>
<path d="M671.6,369.8 696.6,369.8 694.1,389.8 676.6,392.3Z" fill="#4d80f4"/>
<path d="M531.5,290.0 586.5,290.0 571.5,310.0 541.5,310.0Z" fill="#000c92"/>
<path d="M511.5,290.0 611.6,290.0 601.6,310.0 571.5,319.9 531.5,314.9 511.5,305.0Z" fill="#1650ea"/>
<path d="M531.5,290.0 586.5,290.0 571.5,307.5 541.5,307.5Z" fill="#000c92"/>
<path d="M596.6,429.7 631.6,429.7 631.6,437.2 596.6,437.2Z" fill="#4d80f4"/>
<path d="M676.6,439.7 696.6,439.7 696.6,449.6 676.6,449.6Z" fill="#86a7f3"/>
<path d="M666.6,429.7 671.6,429.7 671.6,439.7 666.6,439.7Z" fill="#4d80f4"/>
<path d="M761.6,339.9 791.7,339.9 791.7,379.8 761.6,379.8Z" fill="#b4c8f6"/>
<path d="M781.7,290.0 796.7,290.0 796.7,310.0 781.7,310.0Z" fill="#b4c8f6"/>
<path d="M320.6,198.6 407.7,195.3 457.9,202.0 514.8,215.3 528.2,242.0 514.8,255.4 474.6,252.0 457.9,275.4 407.7,278.8 374.2,268.7 320.6,258.7Z" fill="#86a7f3"/>
<path d="M390.9,218.7 451.2,213.7 491.4,222.0 508.1,242.0 467.9,248.7 451.2,268.7 417.7,272.1 394.3,252.0Z" fill="#4d80f4"/>
<path d="M424.4,245.4 451.2,245.4 451.2,268.7 427.7,268.7Z" fill="#000c92"/>
<path d="M496.4,217.0 511.4,217.0 511.4,230.3 496.4,230.3Z" fill="#000c92"/>
<path d="M595.1,212.0 608.5,212.0 608.5,232.0 595.1,232.0Z" fill="#4d80f4"/>
<path d="M608.5,238.7 682.2,232.0 682.2,334.5 635.3,334.5 615.2,298.8 615.2,262.1Z" fill="#b4c8f6"/>
<path d="M300.5,252.0 340.7,245.4 340.7,298.8 313.9,292.1Z" fill="#86a7f3"/>
<path d="M504.8,238.7 528.2,238.7 581.8,245.4 605.2,265.4 608.5,292.1 588.5,312.1 558.3,315.5 528.2,308.8 508.1,285.4Z" fill="#1650ea"/>
<path d="M521.5,248.7 548.3,248.7 571.7,258.7 581.8,272.1 575.1,292.1 555.0,298.8 534.9,288.8 523.2,268.7Z" fill="#000c92"/>
<path d="M611.0,317.1 651.0,302.0 686.0,297.0 791.1,297.0 791.1,347.2 751.0,362.2 726.0,372.3 711.0,392.4 681.0,409.9 651.0,407.4 616.0,404.9 611.0,372.3 621.0,347.2Z" fill="#b4c8f6"/>
<path d="M626.0,327.1 661.0,307.0 701.0,302.0 736.0,312.1 756.0,332.1 746.0,352.2 721.0,362.2 706.0,382.3 681.0,397.4 651.0,397.4 626.0,387.3 618.5,357.2Z" fill="#86a7f3"/>
<path d="M661.0,317.1 701.0,312.1 731.0,327.1 721.0,352.2 701.0,372.3 681.0,382.3 656.0,372.3 641.0,352.2Z" fill="#4d80f4"/>
<path d="M682.2,255.4 749.2,252.0 765.9,278.8 749.2,312.1 722.4,334.5 682.2,334.5Z" fill="#86a7f3"/>
<path d="M682.2,298.8 715.7,298.8 722.4,325.5 712.3,334.5 682.2,334.5Z" fill="#4d80f4"/>
<path d="M596.0,428.5 606.0,428.5 606.0,435.5 596.0,435.5Z" fill="#000c92"/>
<path d="M109.7,285.4 126.4,285.4 133.1,312.1 119.7,315.5Z" fill="#4d80f4"/>
<path d="M925.9,151.9 934.0,151.9 934.0,192.0 925.9,192.0Z" fill="#1650ea"/>
<path d="M-0.8,98.9 9.2,106.4 19.2,113.9 29.2,123.8 34.2,131.3 26.7,136.3 24.2,141.3 39.2,146.3 54.2,151.3 69.2,158.8 79.2,168.7 86.8,178.7 89.3,198.6 86.8,218.6 81.7,238.5 76.7,253.5 79.2,268.4 86.8,288.4 94.3,303.3 104.3,318.3 114.3,329.3 144.3,359.2 169.3,379.2 184.3,394.2 194.3,414.1 204.3,429.1 211.8,443.1 221.8,449.1 231.8,461.6 234.3,469.0 221.8,471.5 229.3,479.0 244.3,486.5 256.9,496.5 259.4,504.0 261.9,516.5 271.9,521.5 281.9,528.9 289.4,533.9 294.4,541.4 299.4,536.4 294.4,528.9 286.9,521.5 276.9,509.0 269.4,494.0 259.4,481.5 249.3,471.5 246.8,459.1 244.3,441.6 239.3,429.1 234.3,421.6 224.3,416.6 221.8,414.1 229.3,415.1 244.3,419.1 249.3,434.1 259.4,449.1 271.9,461.6 279.4,469.0 289.4,479.0 299.4,491.5 304.4,501.5 314.4,509.0 324.4,516.5 339.4,528.9 349.4,541.4 356.9,553.9 359.4,563.9 356.9,576.4 361.9,586.3 374.4,596.3 389.4,606.3 404.4,616.3 424.5,626.3 449.5,633.8 474.5,641.2 499.5,646.2 511.5,642.7 531.5,648.7 541.5,658.7" fill="none" stroke="#777" stroke-width="0.6" vector-effect="non-scaling-stroke" stroke-linejoin="round"/>
<path d="M511.5,449.1 531.5,441.6 551.5,444.1 566.5,449.1 586.5,446.6 594.0,436.6 611.6,431.6 636.6,431.6 651.6,436.6 661.6,441.6 671.6,436.6 681.6,441.6 691.6,449.1 694.1,464.1 701.6,479.0 711.6,499.0 716.6,506.5 724.1,504.0 729.1,494.0 726.6,474.0 716.6,449.1 711.6,429.1 716.6,414.1 731.6,399.2 751.6,384.2 766.7,374.2 781.7,364.2 791.7,354.3 796.7,339.3 791.7,329.3 781.7,318.3 786.7,308.3 796.7,298.4 806.7,293.4 821.7,283.4 836.7,278.4 856.7,268.4 869.2,261.0 876.7,248.5 891.7,238.5 911.7,231.0 931.8,226.1 946.8,221.1 961.8,218.6" fill="none" stroke="#777" stroke-width="0.6" vector-effect="non-scaling-stroke" stroke-linejoin="round"/>
<path d="M511.5,449.1 494.5,454.1 479.5,464.1 474.5,479.0 477.0,494.0 472.0,514.0 469.5,533.9 472.0,553.9 479.5,573.9 492.0,588.8 504.5,601.3 511.5,606.3 531.5,603.8 551.5,603.8 566.5,593.8 574.0,578.9 581.5,568.9 596.6,563.9 616.6,561.4 631.6,563.9 629.1,578.9 621.6,593.8 616.6,608.8 611.6,623.8 604.1,638.7 606.6,648.7 631.6,646.2 656.6,648.7 681.6,658.7" fill="none" stroke="#777" stroke-width="0.6" vector-effect="non-scaling-stroke" stroke-linejoin="round"/>
<path d="M661.6,558.9 676.6,548.9 696.6,538.9 721.6,543.9 741.6,551.4 761.6,558.9 776.7,568.9 791.7,573.9 811.7,581.3 821.7,586.3 811.7,586.3 791.7,586.3 776.7,586.3 766.7,581.3 761.6,573.9 746.6,568.9 726.6,563.9 711.6,558.9 696.6,553.9 681.6,553.9Z" fill="none" stroke="#777" stroke-width="0.6" vector-effect="non-scaling-stroke" stroke-linejoin="round"/>
<path d="M686.6,557.9 692.6,561.9 689.6,564.9 685.6,561.4Z" fill="none" stroke="#777" stroke-width="0.6" vector-effect="non-scaling-stroke" stroke-linejoin="round"/>
<path d="M831.7,588.8 856.7,586.3 876.7,588.8 891.7,596.3 901.7,606.3 896.7,611.3 876.7,608.8 861.7,613.8 851.7,616.3 836.7,611.3 816.7,608.8 821.7,603.8 836.7,598.8Z" fill="none" stroke="#777" stroke-width="0.6" vector-effect="non-scaling-stroke" stroke-linejoin="round"/>
<path d="M756.6,608.8 771.7,606.3 786.7,611.3 776.7,616.3 761.6,614.8Z" fill="none" stroke="#777" stroke-width="0.6" vector-effect="non-scaling-stroke" stroke-linejoin="round"/>
<path d="M919.2,608.8 936.8,606.3 941.8,611.3 931.8,614.8 919.2,612.8Z" fill="none" stroke="#777" stroke-width="0.6" vector-effect="non-scaling-stroke" stroke-linejoin="round"/>
<path d="M751.6,489.0 766.7,484.0 774.2,494.0 771.7,499.0" fill="none" stroke="#777" stroke-width="0.6" vector-effect="non-scaling-stroke" stroke-linejoin="round"/>
<path d="M756.6,514.0 761.6,528.9 766.7,523.9Z" fill="none" stroke="#777" stroke-width="0.6" vector-effect="non-scaling-stroke" stroke-linejoin="round"/>
<path d="M781.7,504.0 791.7,514.0 801.7,528.9 811.7,543.9 821.7,548.9" fill="none" stroke="#777" stroke-width="0.6" vector-effect="non-scaling-stroke" stroke-linejoin="round"/>
<path d="M826.7,568.9 831.7,566.4" fill="none" stroke="#777" stroke-width="0.6" vector-effect="non-scaling-stroke" stroke-linejoin="round"/>
<path d="M999.3,636.2 1004.3,641.2" fill="none" stroke="#777" stroke-width="0.6" vector-effect="non-scaling-stroke" stroke-linejoin="round"/>
<path d="M860.0,190.0 880.0,172.0 895.0,163.0 908.0,153.0 933.0,143.0 958.0,141.0 989.0,144.0 1030.0,147.0" fill="none" stroke="#777" stroke-width="0.6" vector-effect="non-scaling-stroke" stroke-linejoin="round"/>
<path d="M936.8,233.5 951.8,223.6 971.8,218.6 991.8,208.6 1006.8,203.6 1016.8,193.7 1021.8,208.6 1006.8,218.6 986.8,226.1 961.8,233.5 941.8,241.0Z" fill="none" stroke="#777" stroke-width="0.6" vector-effect="non-scaling-stroke" stroke-linejoin="round"/>
<path d="M961.8,148.8 981.8,153.8 996.8,158.8 981.8,161.2 966.8,156.3Z" fill="none" stroke="#777" stroke-width="0.6" vector-effect="non-scaling-stroke" stroke-linejoin="round"/>
<path d="M951.8,163.7 971.8,168.7 991.8,178.7 1006.8,188.7 1016.8,196.1" fill="none" stroke="#777" stroke-width="0.6" vector-effect="non-scaling-stroke" stroke-linejoin="round"/>
<path d="M511.5,9.2 521.5,19.1 541.5,24.1 551.5,39.1 571.5,44.1 596.6,49.1 621.6,56.5 646.6,64.0 671.6,69.0 696.6,74.0 701.6,88.9 696.6,98.9 706.6,106.4 716.6,106.4 731.6,108.9 736.6,118.9 731.6,126.3 746.6,118.9 751.6,108.9 746.6,98.9 741.6,86.5 746.6,79.0 766.7,69.0 776.7,59.0 781.7,49.1 776.7,34.1 766.7,24.1 756.6,19.1 754.1,11.7 766.7,4.2 766.7,-3.3" fill="none" stroke="#777" stroke-width="0.6" vector-effect="non-scaling-stroke" stroke-linejoin="round"/>
<path d="M511.5,9.2 509.0,-0.8" fill="none" stroke="#777" stroke-width="0.6" vector-effect="non-scaling-stroke" stroke-linejoin="round"/>
<path d="M731.6,54.0 741.6,51.6 746.6,59.0 736.6,61.5Z" fill="none" stroke="#777" stroke-width="0.6" vector-effect="non-scaling-stroke" stroke-linejoin="round"/>
<path d="M701.6,101.4 711.6,98.9 719.1,103.9 709.1,106.4Z" fill="none" stroke="#777" stroke-width="0.6" vector-effect="non-scaling-stroke" stroke-linejoin="round"/>
<path d="M886.7,-3.3 891.7,9.2 906.7,19.1 921.7,24.1 941.8,14.2 946.8,4.2 946.8,-3.3" fill="none" stroke="#777" stroke-width="0.6" vector-effect="non-scaling-stroke" stroke-linejoin="round"/>
<path d="M966.8,1.7 981.8,19.1 991.8,34.1 1001.8,44.1 1001.8,54.0 1011.8,64.0 1026.8,66.5" fill="none" stroke="#777" stroke-width="0.6" vector-effect="non-scaling-stroke" stroke-linejoin="round"/>
<path d="M556.5,193.7 576.5,183.7 601.6,171.2 616.6,163.7 636.6,166.2 646.6,173.7 656.6,183.7 661.6,193.7 651.6,198.6 626.6,193.7 616.6,196.1 611.6,186.2 601.6,183.7 586.5,186.2 571.5,191.2Z" fill="none" stroke="#777" stroke-width="0.6" vector-effect="non-scaling-stroke" stroke-linejoin="round"/>
<path d="M616.6,208.6 626.6,203.6 636.6,208.6 641.6,218.6 639.1,233.5 631.6,248.5 626.6,263.5 619.1,258.5 616.6,238.5 619.1,223.6Z" fill="none" stroke="#777" stroke-width="0.6" vector-effect="non-scaling-stroke" stroke-linejoin="round"/>
<path d="M669.0,204.7 696.3,201.3 716.8,211.5 733.8,225.2 730.4,235.4 709.9,232.0 699.7,245.7 689.5,235.4 675.8,218.4Z" fill="none" stroke="#777" stroke-width="0.6" vector-effect="non-scaling-stroke" stroke-linejoin="round"/>
<path d="M682.0,268.0 700.0,262.0 725.0,254.0 750.0,247.0 752.0,252.0 728.0,260.0 703.0,268.0 685.0,272.0Z" fill="none" stroke="#777" stroke-width="0.6" vector-effect="non-scaling-stroke" stroke-linejoin="round"/>
<path d="M745.0,238.0 770.0,232.0 788.0,234.0 775.0,242.0 752.0,244.0Z" fill="none" stroke="#777" stroke-width="0.6" vector-effect="non-scaling-stroke" stroke-linejoin="round"/>
<path d="M274.4,19.1 289.4,14.2 299.4,6.7 319.4,9.2 329.4,11.7 309.4,14.2 284.4,21.6Z" fill="none" stroke="#777" stroke-width="0.6" vector-effect="non-scaling-stroke" stroke-linejoin="round"/>
<path d="M394.4,51.6 399.4,39.1 406.9,30.1 414.4,33.1 405.4,41.6 399.4,51.6Z" fill="none" stroke="#777" stroke-width="0.6" vector-effect="non-scaling-stroke" stroke-linejoin="round"/>
<path d="M449.5,93.9 464.5,91.4 474.5,103.9 484.5,118.9 489.5,128.8 487.0,141.3 482.0,133.8 474.5,118.9 464.5,111.4 452.0,101.4Z" fill="none" stroke="#777" stroke-width="0.6" vector-effect="non-scaling-stroke" stroke-linejoin="round"/>
</svg>
<svg x="555.5" y="341.1" width="382.5" height="245.79999999999995" viewBox="0 0 1024 658" preserveAspectRatio="none" overflow="hidden">
<path d="M50.0,120.0 930.0,120.0 930.0,200.0 880.0,240.0 840.0,280.0 800.0,310.0 780.0,340.0 760.0,400.0 720.0,430.0 700.0,440.0 650.0,440.0 600.0,445.0 560.0,445.0 520.0,460.0 480.0,480.0 460.0,520.0 380.0,525.0 330.0,480.0 290.0,440.0 250.0,420.0 200.0,380.0 150.0,370.0 110.0,330.0 90.0,280.0 80.0,230.0 100.0,180.0 80.0,160.0 50.0,140.0Z" fill="#f1f5fd"/>
<path d="M101.0,254.8 128.3,248.0 141.9,282.1 155.6,323.0 189.7,350.3 203.3,377.6 162.4,377.6 135.1,357.1 114.6,329.8 101.0,302.5 94.2,275.2Z" fill="#f6ebdc"/>
<path d="M60.1,123.8 135.1,123.8 135.1,135.4 60.1,135.4Z" fill="#f6ebdc"/>
<path d="M358.0,151.0 410.0,151.0 410.0,177.0 358.0,177.0Z" fill="#f6ebdc"/>
<path d="M478.0,146.0 552.0,146.0 552.0,167.0 478.0,167.0Z" fill="#f6ebdc"/>
<path d="M688.0,172.0 730.0,172.0 730.0,203.0 688.0,203.0Z" fill="#f6ebdc"/>
<path d="M431.0,292.0 463.0,292.0 463.0,318.0 431.0,318.0Z" fill="#f6ebdc"/>
<path d="M688.0,172.0 730.0,172.0 730.0,203.0 688.0,203.0Z" fill="#f6ebdc"/>
<path d="M279.8,121.7 353.0,121.7 353.0,146.0 279.8,146.0Z" fill="#c3d4f8"/>
<path d="M290.0,122.0 340.0,122.0 337.0,145.0 295.0,146.0Z" fill="#87a9f4"/>
<path d="M298.0,124.0 330.0,124.0 328.0,140.0 300.0,142.0Z" fill="#4a7ef2"/>
<path d="M121.5,132.0 135.0,132.0 135.0,142.0 121.5,142.0Z" fill="#4a7ef2"/>
<path d="M311.0,229.5 332.0,219.0 358.2,208.6 384.4,203.4 415.8,206.0 447.1,208.6 462.8,224.3 462.8,245.2 452.4,266.1 436.7,276.5 410.5,281.8 373.9,279.1 342.5,271.3 316.4,255.6 306.0,240.0Z" fill="#c3d4f8"/>
<path d="M321.6,234.7 347.8,224.3 373.9,219.0 384.4,208.6 415.8,211.2 447.1,216.4 457.6,229.5 455.0,255.6 436.7,271.3 410.5,276.5 373.9,273.9 342.5,266.1 321.6,250.4Z" fill="#87a9f4"/>
<path d="M347.8,250.4 384.4,242.6 405.3,237.3 431.4,240.0 452.4,250.4 447.1,263.5 426.2,268.7 384.4,271.3 353.0,266.1Z" fill="#4a7ef2"/>
<path d="M394.8,245.2 426.2,242.6 441.9,250.4 436.7,260.9 410.5,263.5 397.4,258.2Z" fill="#1a58ee"/>
<path d="M348.0,305.0 366.0,305.0 366.0,318.0 348.0,318.0Z" fill="#4a7ef2"/>
<path d="M190.0,204.0 234.0,204.0 234.0,234.0 190.0,234.0Z" fill="#c3d4f8"/>
<path d="M190.0,248.0 203.0,248.0 203.0,265.0 190.0,265.0Z" fill="#87a9f4"/>
<path d="M380.6,370.7 414.7,370.7 414.7,411.7 380.6,411.7Z" fill="#87a9f4"/>
<path d="M388.0,378.0 405.0,378.0 405.0,400.0 388.0,400.0Z" fill="#4a7ef2"/>
<path d="M333.0,466.0 350.0,466.0 350.0,476.0 333.0,476.0Z" fill="#87a9f4"/>
<path d="M374.0,334.0 416.0,334.0 416.0,344.0 374.0,344.0Z" fill="#c3d4f8"/>
<path d="M436.7,349.7 468.0,349.7 468.0,370.6 436.7,370.6Z" fill="#c3d4f8"/>
<path d="M541.2,177.3 572.6,172.0 604.0,182.5 614.5,203.4 609.2,229.5 598.8,234.7 593.5,219.0 583.1,203.4 551.7,192.9Z" fill="#87a9f4"/>
<path d="M593.5,193.0 612.0,193.0 612.0,229.5 596.0,229.5Z" fill="#4a7ef2"/>
<path d="M719.0,235.0 792.0,235.0 792.0,277.0 719.0,277.0Z" fill="#c3d4f8"/>
<path d="M635.4,224.3 698.1,224.3 698.1,271.3 635.4,271.3Z" fill="#87a9f4"/>
<path d="M609.2,266.0 724.3,266.0 724.3,313.0 609.2,313.0Z" fill="#87a9f4"/>
<path d="M614.5,271.3 708.6,271.3 708.6,302.6 614.5,302.6Z" fill="#4a7ef2"/>
<path d="M625.0,271.3 656.0,271.3 656.0,287.0 625.0,287.0Z" fill="#1a58ee"/>
<path d="M677.0,276.5 703.3,276.5 703.3,292.2 677.0,292.2Z" fill="#1a58ee"/>
<path d="M724.3,328.8 750.4,323.6 760.9,349.7 750.4,375.8 729.5,396.7 708.6,417.6 692.9,412.4 687.7,386.3 698.1,360.1 713.8,344.5Z" fill="#87a9f4"/>
<path d="M698.0,360.0 740.0,350.0 745.0,380.0 720.0,405.0 700.0,405.0Z" fill="#4a7ef2"/>
<path d="M483.7,349.7 515.1,344.5 536.0,360.1 546.5,386.3 541.2,412.4 525.6,417.6 509.9,396.7 489.0,375.8Z" fill="#87a9f4"/>
<path d="M500.0,360.0 530.0,365.0 542.0,395.0 530.0,412.0 512.0,395.0Z" fill="#4a7ef2"/>
<path d="M578.0,334.0 609.0,334.0 609.0,355.0 578.0,355.0Z" fill="#87a9f4"/>
<path d="M593.5,422.8 614.5,422.8 614.5,438.5 593.5,438.5Z" fill="#1a58ee"/>
<path d="M-0.8,98.9 9.2,106.4 19.2,113.9 29.2,123.8 34.2,131.3 26.7,136.3 24.2,141.3 39.2,146.3 54.2,151.3 69.2,158.8 79.2,168.7 86.8,178.7 89.3,198.6 86.8,218.6 81.7,238.5 76.7,253.5 79.2,268.4 86.8,288.4 94.3,303.3 104.3,318.3 114.3,329.3 144.3,359.2 169.3,379.2 184.3,394.2 194.3,414.1 204.3,429.1 211.8,443.1 221.8,449.1 231.8,461.6 234.3,469.0 221.8,471.5 229.3,479.0 244.3,486.5 256.9,496.5 259.4,504.0 261.9,516.5 271.9,521.5 281.9,528.9 289.4,533.9 294.4,541.4 299.4,536.4 294.4,528.9 286.9,521.5 276.9,509.0 269.4,494.0 259.4,481.5 249.3,471.5 246.8,459.1 244.3,441.6 239.3,429.1 234.3,421.6 224.3,416.6 221.8,414.1 229.3,415.1 244.3,419.1 249.3,434.1 259.4,449.1 271.9,461.6 279.4,469.0 289.4,479.0 299.4,491.5 304.4,501.5 314.4,509.0 324.4,516.5 339.4,528.9 349.4,541.4 356.9,553.9 359.4,563.9 356.9,576.4 361.9,586.3 374.4,596.3 389.4,606.3 404.4,616.3 424.5,626.3 449.5,633.8 474.5,641.2 499.5,646.2 511.5,642.7 531.5,648.7 541.5,658.7" fill="none" stroke="#777" stroke-width="0.6" vector-effect="non-scaling-stroke" stroke-linejoin="round"/>
<path d="M511.5,449.1 531.5,441.6 551.5,444.1 566.5,449.1 586.5,446.6 594.0,436.6 611.6,431.6 636.6,431.6 651.6,436.6 661.6,441.6 671.6,436.6 681.6,441.6 691.6,449.1 694.1,464.1 701.6,479.0 711.6,499.0 716.6,506.5 724.1,504.0 729.1,494.0 726.6,474.0 716.6,449.1 711.6,429.1 716.6,414.1 731.6,399.2 751.6,384.2 766.7,374.2 781.7,364.2 791.7,354.3 796.7,339.3 791.7,329.3 781.7,318.3 786.7,308.3 796.7,298.4 806.7,293.4 821.7,283.4 836.7,278.4 856.7,268.4 869.2,261.0 876.7,248.5 891.7,238.5 911.7,231.0 931.8,226.1 946.8,221.1 961.8,218.6" fill="none" stroke="#777" stroke-width="0.6" vector-effect="non-scaling-stroke" stroke-linejoin="round"/>
<path d="M511.5,449.1 494.5,454.1 479.5,464.1 474.5,479.0 477.0,494.0 472.0,514.0 469.5,533.9 472.0,553.9 479.5,573.9 492.0,588.8 504.5,601.3 511.5,606.3 531.5,603.8 551.5,603.8 566.5,593.8 574.0,578.9 581.5,568.9 596.6,563.9 616.6,561.4 631.6,563.9 629.1,578.9 621.6,593.8 616.6,608.8 611.6,623.8 604.1,638.7 606.6,648.7 631.6,646.2 656.6,648.7 681.6,658.7" fill="none" stroke="#777" stroke-width="0.6" vector-effect="non-scaling-stroke" stroke-linejoin="round"/>
<path d="M661.6,558.9 676.6,548.9 696.6,538.9 721.6,543.9 741.6,551.4 761.6,558.9 776.7,568.9 791.7,573.9 811.7,581.3 821.7,586.3 811.7,586.3 791.7,586.3 776.7,586.3 766.7,581.3 761.6,573.9 746.6,568.9 726.6,563.9 711.6,558.9 696.6,553.9 681.6,553.9Z" fill="none" stroke="#777" stroke-width="0.6" vector-effect="non-scaling-stroke" stroke-linejoin="round"/>
<path d="M686.6,557.9 692.6,561.9 689.6,564.9 685.6,561.4Z" fill="none" stroke="#777" stroke-width="0.6" vector-effect="non-scaling-stroke" stroke-linejoin="round"/>
<path d="M831.7,588.8 856.7,586.3 876.7,588.8 891.7,596.3 901.7,606.3 896.7,611.3 876.7,608.8 861.7,613.8 851.7,616.3 836.7,611.3 816.7,608.8 821.7,603.8 836.7,598.8Z" fill="none" stroke="#777" stroke-width="0.6" vector-effect="non-scaling-stroke" stroke-linejoin="round"/>
<path d="M756.6,608.8 771.7,606.3 786.7,611.3 776.7,616.3 761.6,614.8Z" fill="none" stroke="#777" stroke-width="0.6" vector-effect="non-scaling-stroke" stroke-linejoin="round"/>
<path d="M919.2,608.8 936.8,606.3 941.8,611.3 931.8,614.8 919.2,612.8Z" fill="none" stroke="#777" stroke-width="0.6" vector-effect="non-scaling-stroke" stroke-linejoin="round"/>
<path d="M751.6,489.0 766.7,484.0 774.2,494.0 771.7,499.0" fill="none" stroke="#777" stroke-width="0.6" vector-effect="non-scaling-stroke" stroke-linejoin="round"/>
<path d="M756.6,514.0 761.6,528.9 766.7,523.9Z" fill="none" stroke="#777" stroke-width="0.6" vector-effect="non-scaling-stroke" stroke-linejoin="round"/>
<path d="M781.7,504.0 791.7,514.0 801.7,528.9 811.7,543.9 821.7,548.9" fill="none" stroke="#777" stroke-width="0.6" vector-effect="non-scaling-stroke" stroke-linejoin="round"/>
<path d="M826.7,568.9 831.7,566.4" fill="none" stroke="#777" stroke-width="0.6" vector-effect="non-scaling-stroke" stroke-linejoin="round"/>
<path d="M999.3,636.2 1004.3,641.2" fill="none" stroke="#777" stroke-width="0.6" vector-effect="non-scaling-stroke" stroke-linejoin="round"/>
<path d="M860.0,190.0 880.0,172.0 895.0,163.0 908.0,153.0 933.0,143.0 958.0,141.0 989.0,144.0 1030.0,147.0" fill="none" stroke="#777" stroke-width="0.6" vector-effect="non-scaling-stroke" stroke-linejoin="round"/>
<path d="M936.8,233.5 951.8,223.6 971.8,218.6 991.8,208.6 1006.8,203.6 1016.8,193.7 1021.8,208.6 1006.8,218.6 986.8,226.1 961.8,233.5 941.8,241.0Z" fill="none" stroke="#777" stroke-width="0.6" vector-effect="non-scaling-stroke" stroke-linejoin="round"/>
<path d="M961.8,148.8 981.8,153.8 996.8,158.8 981.8,161.2 966.8,156.3Z" fill="none" stroke="#777" stroke-width="0.6" vector-effect="non-scaling-stroke" stroke-linejoin="round"/>
<path d="M951.8,163.7 971.8,168.7 991.8,178.7 1006.8,188.7 1016.8,196.1" fill="none" stroke="#777" stroke-width="0.6" vector-effect="non-scaling-stroke" stroke-linejoin="round"/>
<path d="M511.5,9.2 521.5,19.1 541.5,24.1 551.5,39.1 571.5,44.1 596.6,49.1 621.6,56.5 646.6,64.0 671.6,69.0 696.6,74.0 701.6,88.9 696.6,98.9 706.6,106.4 716.6,106.4 731.6,108.9 736.6,118.9 731.6,126.3 746.6,118.9 751.6,108.9 746.6,98.9 741.6,86.5 746.6,79.0 766.7,69.0 776.7,59.0 781.7,49.1 776.7,34.1 766.7,24.1 756.6,19.1 754.1,11.7 766.7,4.2 766.7,-3.3" fill="none" stroke="#777" stroke-width="0.6" vector-effect="non-scaling-stroke" stroke-linejoin="round"/>
<path d="M511.5,9.2 509.0,-0.8" fill="none" stroke="#777" stroke-width="0.6" vector-effect="non-scaling-stroke" stroke-linejoin="round"/>
<path d="M731.6,54.0 741.6,51.6 746.6,59.0 736.6,61.5Z" fill="none" stroke="#777" stroke-width="0.6" vector-effect="non-scaling-stroke" stroke-linejoin="round"/>
<path d="M701.6,101.4 711.6,98.9 719.1,103.9 709.1,106.4Z" fill="none" stroke="#777" stroke-width="0.6" vector-effect="non-scaling-stroke" stroke-linejoin="round"/>
<path d="M886.7,-3.3 891.7,9.2 906.7,19.1 921.7,24.1 941.8,14.2 946.8,4.2 946.8,-3.3" fill="none" stroke="#777" stroke-width="0.6" vector-effect="non-scaling-stroke" stroke-linejoin="round"/>
<path d="M966.8,1.7 981.8,19.1 991.8,34.1 1001.8,44.1 1001.8,54.0 1011.8,64.0 1026.8,66.5" fill="none" stroke="#777" stroke-width="0.6" vector-effect="non-scaling-stroke" stroke-linejoin="round"/>
<path d="M556.5,193.7 576.5,183.7 601.6,171.2 616.6,163.7 636.6,166.2 646.6,173.7 656.6,183.7 661.6,193.7 651.6,198.6 626.6,193.7 616.6,196.1 611.6,186.2 601.6,183.7 586.5,186.2 571.5,191.2Z" fill="none" stroke="#777" stroke-width="0.6" vector-effect="non-scaling-stroke" stroke-linejoin="round"/>
<path d="M616.6,208.6 626.6,203.6 636.6,208.6 641.6,218.6 639.1,233.5 631.6,248.5 626.6,263.5 619.1,258.5 616.6,238.5 619.1,223.6Z" fill="none" stroke="#777" stroke-width="0.6" vector-effect="non-scaling-stroke" stroke-linejoin="round"/>
<path d="M669.0,204.7 696.3,201.3 716.8,211.5 733.8,225.2 730.4,235.4 709.9,232.0 699.7,245.7 689.5,235.4 675.8,218.4Z" fill="none" stroke="#777" stroke-width="0.6" vector-effect="non-scaling-stroke" stroke-linejoin="round"/>
<path d="M682.0,268.0 700.0,262.0 725.0,254.0 750.0,247.0 752.0,252.0 728.0,260.0 703.0,268.0 685.0,272.0Z" fill="none" stroke="#777" stroke-width="0.6" vector-effect="non-scaling-stroke" stroke-linejoin="round"/>
<path d="M745.0,238.0 770.0,232.0 788.0,234.0 775.0,242.0 752.0,244.0Z" fill="none" stroke="#777" stroke-width="0.6" vector-effect="non-scaling-stroke" stroke-linejoin="round"/>
<path d="M274.4,19.1 289.4,14.2 299.4,6.7 319.4,9.2 329.4,11.7 309.4,14.2 284.4,21.6Z" fill="none" stroke="#777" stroke-width="0.6" vector-effect="non-scaling-stroke" stroke-linejoin="round"/>
<path d="M394.4,51.6 399.4,39.1 406.9,30.1 414.4,33.1 405.4,41.6 399.4,51.6Z" fill="none" stroke="#777" stroke-width="0.6" vector-effect="non-scaling-stroke" stroke-linejoin="round"/>
<path d="M449.5,93.9 464.5,91.4 474.5,103.9 484.5,118.9 489.5,128.8 487.0,141.3 482.0,133.8 474.5,118.9 464.5,111.4 452.0,101.4Z" fill="none" stroke="#777" stroke-width="0.6" vector-effect="non-scaling-stroke" stroke-linejoin="round"/>
</svg>
<line x1="20.5" y1="7.5" x2="410.5" y2="7.5" stroke="#8a8a8a" stroke-width="1.2"/>
<line x1="410.0" y1="7.5" x2="410.0" y2="257.3" stroke="#555" stroke-width="1.2"/>
<line x1="20.5" y1="257.3" x2="410.5" y2="257.3" stroke="#777" stroke-width="1.4"/>
<line x1="21.0" y1="7.5" x2="21.0" y2="257.3" stroke="#f2f2f2" stroke-width="1.2"/>
<line x1="21.0" y1="257.3" x2="21.0" y2="254.3" stroke="#777" stroke-width="0.8"/>
<line x1="21.0" y1="7.5" x2="21.0" y2="10.5" stroke="#777" stroke-width="0.8"/>
<text x="18.7" y="277.5" text-anchor="middle" font-family="Liberation Sans" font-weight="bold" font-size="14">-130</text>
<line x1="76.6" y1="257.3" x2="76.6" y2="254.3" stroke="#777" stroke-width="0.8"/>
<line x1="76.6" y1="7.5" x2="76.6" y2="10.5" stroke="#777" stroke-width="0.8"/>
<text x="74.3" y="277.5" text-anchor="middle" font-family="Liberation Sans" font-weight="bold" font-size="14">-120</text>
<line x1="132.1" y1="257.3" x2="132.1" y2="254.3" stroke="#777" stroke-width="0.8"/>
<line x1="132.1" y1="7.5" x2="132.1" y2="10.5" stroke="#777" stroke-width="0.8"/>
<text x="129.8" y="277.5" text-anchor="middle" font-family="Liberation Sans" font-weight="bold" font-size="14">-110</text>
<line x1="187.7" y1="257.3" x2="187.7" y2="254.3" stroke="#777" stroke-width="0.8"/>
<line x1="187.7" y1="7.5" x2="187.7" y2="10.5" stroke="#777" stroke-width="0.8"/>
<text x="185.4" y="277.5" text-anchor="middle" font-family="Liberation Sans" font-weight="bold" font-size="14">-100</text>
<line x1="243.3" y1="257.3" x2="243.3" y2="254.3" stroke="#777" stroke-width="0.8"/>
<line x1="243.3" y1="7.5" x2="243.3" y2="10.5" stroke="#777" stroke-width="0.8"/>
<text x="241.0" y="277.5" text-anchor="middle" font-family="Liberation Sans" font-weight="bold" font-size="14">-90</text>
<line x1="298.9" y1="257.3" x2="298.9" y2="254.3" stroke="#777" stroke-width="0.8"/>
<line x1="298.9" y1="7.5" x2="298.9" y2="10.5" stroke="#777" stroke-width="0.8"/>
<text x="296.6" y="277.5" text-anchor="middle" font-family="Liberation Sans" font-weight="bold" font-size="14">-80</text>
<line x1="354.4" y1="257.3" x2="354.4" y2="254.3" stroke="#777" stroke-width="0.8"/>
<line x1="354.4" y1="7.5" x2="354.4" y2="10.5" stroke="#777" stroke-width="0.8"/>
<text x="352.1" y="277.5" text-anchor="middle" font-family="Liberation Sans" font-weight="bold" font-size="14">-70</text>
<line x1="410.0" y1="257.3" x2="410.0" y2="254.3" stroke="#777" stroke-width="0.8"/>
<line x1="410.0" y1="7.5" x2="410.0" y2="10.5" stroke="#777" stroke-width="0.8"/>
<text x="407.7" y="277.5" text-anchor="middle" font-family="Liberation Sans" font-weight="bold" font-size="14">-60</text>
<line x1="21.0" y1="7.5" x2="24.0" y2="7.5" stroke="#777" stroke-width="0.8"/>
<line x1="410.0" y1="7.5" x2="407.0" y2="7.5" stroke="#777" stroke-width="0.8"/>
<text x="17.6" y="14.0" text-anchor="end" font-family="Liberation Sans" font-weight="bold" font-size="14">60</text>
<line x1="21.0" y1="63.0" x2="24.0" y2="63.0" stroke="#777" stroke-width="0.8"/>
<line x1="410.0" y1="63.0" x2="407.0" y2="63.0" stroke="#777" stroke-width="0.8"/>
<text x="17.6" y="69.5" text-anchor="end" font-family="Liberation Sans" font-weight="bold" font-size="14">50</text>
<line x1="21.0" y1="118.5" x2="24.0" y2="118.5" stroke="#777" stroke-width="0.8"/>
<line x1="410.0" y1="118.5" x2="407.0" y2="118.5" stroke="#777" stroke-width="0.8"/>
<text x="17.6" y="125.0" text-anchor="end" font-family="Liberation Sans" font-weight="bold" font-size="14">40</text>
<line x1="21.0" y1="174.0" x2="24.0" y2="174.0" stroke="#777" stroke-width="0.8"/>
<line x1="410.0" y1="174.0" x2="407.0" y2="174.0" stroke="#777" stroke-width="0.8"/>
<text x="17.6" y="180.5" text-anchor="end" font-family="Liberation Sans" font-weight="bold" font-size="14">30</text>
<line x1="21.0" y1="229.5" x2="24.0" y2="229.5" stroke="#777" stroke-width="0.8"/>
<line x1="410.0" y1="229.5" x2="407.0" y2="229.5" stroke="#777" stroke-width="0.8"/>
<text x="17.6" y="236.0" text-anchor="end" font-family="Liberation Sans" font-weight="bold" font-size="14">20</text>
<linearGradient id="ga" x1="0" y1="0" x2="0" y2="1"><stop offset="0" stop-color="#000080"/><stop offset="0.08" stop-color="#0018a8"/><stop offset="0.17" stop-color="#0040e8"/><stop offset="0.25" stop-color="#0050ff"/><stop offset="0.33" stop-color="#2a66fa"/><stop offset="0.5" stop-color="#6d96f0"/><stop offset="0.67" stop-color="#aac0f2"/><stop offset="0.83" stop-color="#e8edf8"/><stop offset="0.92" stop-color="#fdfbf7"/><stop offset="1" stop-color="#fffefb"/></linearGradient>
<rect x="425.0" y="7.5" width="20.30000000000001" height="250.5" fill="url(#ga)" stroke="#666" stroke-width="1"/>
<line x1="425.0" y1="7.5" x2="427.5" y2="7.5" stroke="#444" stroke-width="0.8"/>
<line x1="445.3" y1="7.5" x2="442.8" y2="7.5" stroke="#444" stroke-width="0.8"/>
<text x="448.5" y="13.8" font-family="Liberation Sans" font-weight="bold" font-size="14">30</text>
<line x1="425.0" y1="49.2" x2="427.5" y2="49.2" stroke="#444" stroke-width="0.8"/>
<line x1="445.3" y1="49.2" x2="442.8" y2="49.2" stroke="#444" stroke-width="0.8"/>
<text x="448.5" y="55.5" font-family="Liberation Sans" font-weight="bold" font-size="14">25</text>
<line x1="425.0" y1="91.0" x2="427.5" y2="91.0" stroke="#444" stroke-width="0.8"/>
<line x1="445.3" y1="91.0" x2="442.8" y2="91.0" stroke="#444" stroke-width="0.8"/>
<text x="448.5" y="97.3" font-family="Liberation Sans" font-weight="bold" font-size="14">20</text>
<line x1="425.0" y1="132.8" x2="427.5" y2="132.8" stroke="#444" stroke-width="0.8"/>
<line x1="445.3" y1="132.8" x2="442.8" y2="132.8" stroke="#444" stroke-width="0.8"/>
<text x="448.5" y="139.0" font-family="Liberation Sans" font-weight="bold" font-size="14">15</text>
<line x1="425.0" y1="174.5" x2="427.5" y2="174.5" stroke="#444" stroke-width="0.8"/>
<line x1="445.3" y1="174.5" x2="442.8" y2="174.5" stroke="#444" stroke-width="0.8"/>
<text x="448.5" y="180.8" font-family="Liberation Sans" font-weight="bold" font-size="14">10</text>
<line x1="425.0" y1="216.2" x2="427.5" y2="216.2" stroke="#444" stroke-width="0.8"/>
<line x1="445.3" y1="216.2" x2="442.8" y2="216.2" stroke="#444" stroke-width="0.8"/>
<text x="448.5" y="222.5" font-family="Liberation Sans" font-weight="bold" font-size="14">5</text>
<line x1="425.0" y1="258.0" x2="427.5" y2="258.0" stroke="#444" stroke-width="0.8"/>
<line x1="445.3" y1="258.0" x2="442.8" y2="258.0" stroke="#444" stroke-width="0.8"/>
<text x="448.5" y="264.3" font-family="Liberation Sans" font-weight="bold" font-size="14">0</text>
<text transform="translate(484.3,261.6) rotate(-90)" x="0" y="0" font-family="Liberation Sans" font-weight="bold" font-size="14" textLength="256.2" lengthAdjust="spacingAndGlyphs">Terrestrial water storage anomaly (cm)</text>
<text x="248.3" y="319.0" text-anchor="middle" font-family="Liberation Serif" font-size="27">(<tspan font-weight="bold">a</tspan>)</text>
<line x1="546.8" y1="9.3" x2="937.6" y2="9.3" stroke="#666" stroke-width="1.2"/>
<line x1="937.1" y1="9.3" x2="937.1" y2="260.5" stroke="#ccc" stroke-width="1.2"/>
<line x1="546.8" y1="260.5" x2="937.6" y2="260.5" stroke="#eee" stroke-width="1.4"/>
<line x1="547.3" y1="9.3" x2="547.3" y2="260.5" stroke="#777" stroke-width="1.2"/>
<line x1="547.3" y1="260.5" x2="547.3" y2="257.5" stroke="#777" stroke-width="0.8"/>
<line x1="547.3" y1="9.3" x2="547.3" y2="12.3" stroke="#777" stroke-width="0.8"/>
<text x="545.0" y="280.6" text-anchor="middle" font-family="Liberation Sans" font-weight="bold" font-size="14">-130</text>
<line x1="603.0" y1="260.5" x2="603.0" y2="257.5" stroke="#777" stroke-width="0.8"/>
<line x1="603.0" y1="9.3" x2="603.0" y2="12.3" stroke="#777" stroke-width="0.8"/>
<text x="600.7" y="280.6" text-anchor="middle" font-family="Liberation Sans" font-weight="bold" font-size="14">-120</text>
<line x1="658.7" y1="260.5" x2="658.7" y2="257.5" stroke="#777" stroke-width="0.8"/>
<line x1="658.7" y1="9.3" x2="658.7" y2="12.3" stroke="#777" stroke-width="0.8"/>
<text x="656.4" y="280.6" text-anchor="middle" font-family="Liberation Sans" font-weight="bold" font-size="14">-110</text>
<line x1="714.4" y1="260.5" x2="714.4" y2="257.5" stroke="#777" stroke-width="0.8"/>
<line x1="714.4" y1="9.3" x2="714.4" y2="12.3" stroke="#777" stroke-width="0.8"/>
<text x="712.1" y="280.6" text-anchor="middle" font-family="Liberation Sans" font-weight="bold" font-size="14">-100</text>
<line x1="770.0" y1="260.5" x2="770.0" y2="257.5" stroke="#777" stroke-width="0.8"/>
<line x1="770.0" y1="9.3" x2="770.0" y2="12.3" stroke="#777" stroke-width="0.8"/>
<text x="767.7" y="280.6" text-anchor="middle" font-family="Liberation Sans" font-weight="bold" font-size="14">-90</text>
<line x1="825.7" y1="260.5" x2="825.7" y2="257.5" stroke="#777" stroke-width="0.8"/>
<line x1="825.7" y1="9.3" x2="825.7" y2="12.3" stroke="#777" stroke-width="0.8"/>
<text x="823.4" y="280.6" text-anchor="middle" font-family="Liberation Sans" font-weight="bold" font-size="14">-80</text>
<line x1="881.4" y1="260.5" x2="881.4" y2="257.5" stroke="#777" stroke-width="0.8"/>
<line x1="881.4" y1="9.3" x2="881.4" y2="12.3" stroke="#777" stroke-width="0.8"/>
<text x="879.1" y="280.6" text-anchor="middle" font-family="Liberation Sans" font-weight="bold" font-size="14">-70</text>
<line x1="937.1" y1="260.5" x2="937.1" y2="257.5" stroke="#777" stroke-width="0.8"/>
<line x1="937.1" y1="9.3" x2="937.1" y2="12.3" stroke="#777" stroke-width="0.8"/>
<text x="934.8" y="280.6" text-anchor="middle" font-family="Liberation Sans" font-weight="bold" font-size="14">-60</text>
<line x1="547.3" y1="9.3" x2="550.3" y2="9.3" stroke="#777" stroke-width="0.8"/>
<line x1="937.1" y1="9.3" x2="934.1" y2="9.3" stroke="#777" stroke-width="0.8"/>
<text x="543.0" y="16.2" text-anchor="end" font-family="Liberation Sans" font-weight="bold" font-size="14">60</text>
<line x1="547.3" y1="65.1" x2="550.3" y2="65.1" stroke="#777" stroke-width="0.8"/>
<line x1="937.1" y1="65.1" x2="934.1" y2="65.1" stroke="#777" stroke-width="0.8"/>
<text x="543.0" y="71.8" text-anchor="end" font-family="Liberation Sans" font-weight="bold" font-size="14">50</text>
<line x1="547.3" y1="120.9" x2="550.3" y2="120.9" stroke="#777" stroke-width="0.8"/>
<line x1="937.1" y1="120.9" x2="934.1" y2="120.9" stroke="#777" stroke-width="0.8"/>
<text x="543.0" y="127.5" text-anchor="end" font-family="Liberation Sans" font-weight="bold" font-size="14">40</text>
<line x1="547.3" y1="176.8" x2="550.3" y2="176.8" stroke="#777" stroke-width="0.8"/>
<line x1="937.1" y1="176.8" x2="934.1" y2="176.8" stroke="#777" stroke-width="0.8"/>
<text x="543.0" y="183.1" text-anchor="end" font-family="Liberation Sans" font-weight="bold" font-size="14">30</text>
<line x1="547.3" y1="232.6" x2="550.3" y2="232.6" stroke="#777" stroke-width="0.8"/>
<line x1="937.1" y1="232.6" x2="934.1" y2="232.6" stroke="#777" stroke-width="0.8"/>
<text x="543.0" y="238.7" text-anchor="end" font-family="Liberation Sans" font-weight="bold" font-size="14">20</text>
<linearGradient id="gb" x1="0" y1="0" x2="0" y2="1"><stop offset="0" stop-color="#000080"/><stop offset="0.08" stop-color="#0018a8"/><stop offset="0.17" stop-color="#0040e8"/><stop offset="0.25" stop-color="#0050ff"/><stop offset="0.33" stop-color="#2a66fa"/><stop offset="0.5" stop-color="#6d96f0"/><stop offset="0.67" stop-color="#aac0f2"/><stop offset="0.83" stop-color="#e8edf8"/><stop offset="0.92" stop-color="#fdfbf7"/><stop offset="1" stop-color="#fffefb"/></linearGradient>
<rect x="952.3" y="9.3" width="19.700000000000045" height="251.3" fill="url(#gb)" stroke="#666" stroke-width="1"/>
<line x1="952.3" y1="9.3" x2="954.8" y2="9.3" stroke="#444" stroke-width="0.8"/>
<line x1="972.0" y1="9.3" x2="969.5" y2="9.3" stroke="#444" stroke-width="0.8"/>
<text x="975.3" y="16.2" font-family="Liberation Sans" font-weight="bold" font-size="14">30</text>
<line x1="952.3" y1="51.2" x2="954.8" y2="51.2" stroke="#444" stroke-width="0.8"/>
<line x1="972.0" y1="51.2" x2="969.5" y2="51.2" stroke="#444" stroke-width="0.8"/>
<text x="975.3" y="58.0" font-family="Liberation Sans" font-weight="bold" font-size="14">25</text>
<line x1="952.3" y1="93.1" x2="954.8" y2="93.1" stroke="#444" stroke-width="0.8"/>
<line x1="972.0" y1="93.1" x2="969.5" y2="93.1" stroke="#444" stroke-width="0.8"/>
<text x="975.3" y="99.8" font-family="Liberation Sans" font-weight="bold" font-size="14">20</text>
<line x1="952.3" y1="135.0" x2="954.8" y2="135.0" stroke="#444" stroke-width="0.8"/>
<line x1="972.0" y1="135.0" x2="969.5" y2="135.0" stroke="#444" stroke-width="0.8"/>
<text x="975.3" y="141.6" font-family="Liberation Sans" font-weight="bold" font-size="14">15</text>
<line x1="952.3" y1="176.8" x2="954.8" y2="176.8" stroke="#444" stroke-width="0.8"/>
<line x1="972.0" y1="176.8" x2="969.5" y2="176.8" stroke="#444" stroke-width="0.8"/>
<text x="975.3" y="183.4" font-family="Liberation Sans" font-weight="bold" font-size="14">10</text>
<line x1="952.3" y1="218.7" x2="954.8" y2="218.7" stroke="#444" stroke-width="0.8"/>
<line x1="972.0" y1="218.7" x2="969.5" y2="218.7" stroke="#444" stroke-width="0.8"/>
<text x="975.3" y="225.2" font-family="Liberation Sans" font-weight="bold" font-size="14">5</text>
<line x1="952.3" y1="260.6" x2="954.8" y2="260.6" stroke="#444" stroke-width="0.8"/>
<line x1="972.0" y1="260.6" x2="969.5" y2="260.6" stroke="#444" stroke-width="0.8"/>
<text x="975.3" y="267.0" font-family="Liberation Sans" font-weight="bold" font-size="14">0</text>
<text transform="translate(1011.5,264.0) rotate(-90)" x="0" y="0" font-family="Liberation Sans" font-weight="bold" font-size="14" textLength="257.0" lengthAdjust="spacingAndGlyphs">Terrestrial water storage anomaly (cm)</text>
<text x="777.0" y="322.7" text-anchor="middle" font-family="Liberation Serif" font-size="27">(<tspan font-weight="bold">b</tspan>)</text>
<line x1="25.0" y1="342.3" x2="415.8" y2="342.3" stroke="#8a8a8a" stroke-width="1.2"/>
<line x1="415.3" y1="342.3" x2="415.3" y2="592.0" stroke="#666" stroke-width="1.2"/>
<line x1="25.0" y1="592.0" x2="415.8" y2="592.0" stroke="#777" stroke-width="1.4"/>
<line x1="25.5" y1="342.3" x2="25.5" y2="592.0" stroke="#f2f2f2" stroke-width="1.2"/>
<line x1="25.5" y1="592.0" x2="25.5" y2="589.0" stroke="#777" stroke-width="0.8"/>
<line x1="25.5" y1="342.3" x2="25.5" y2="345.3" stroke="#777" stroke-width="0.8"/>
<text x="23.2" y="611.9" text-anchor="middle" font-family="Liberation Sans" font-weight="bold" font-size="14">-130</text>
<line x1="81.2" y1="592.0" x2="81.2" y2="589.0" stroke="#777" stroke-width="0.8"/>
<line x1="81.2" y1="342.3" x2="81.2" y2="345.3" stroke="#777" stroke-width="0.8"/>
<text x="78.9" y="611.9" text-anchor="middle" font-family="Liberation Sans" font-weight="bold" font-size="14">-120</text>
<line x1="136.9" y1="592.0" x2="136.9" y2="589.0" stroke="#777" stroke-width="0.8"/>
<line x1="136.9" y1="342.3" x2="136.9" y2="345.3" stroke="#777" stroke-width="0.8"/>
<text x="134.6" y="611.9" text-anchor="middle" font-family="Liberation Sans" font-weight="bold" font-size="14">-110</text>
<line x1="192.6" y1="592.0" x2="192.6" y2="589.0" stroke="#777" stroke-width="0.8"/>
<line x1="192.6" y1="342.3" x2="192.6" y2="345.3" stroke="#777" stroke-width="0.8"/>
<text x="190.3" y="611.9" text-anchor="middle" font-family="Liberation Sans" font-weight="bold" font-size="14">-100</text>
<line x1="248.2" y1="592.0" x2="248.2" y2="589.0" stroke="#777" stroke-width="0.8"/>
<line x1="248.2" y1="342.3" x2="248.2" y2="345.3" stroke="#777" stroke-width="0.8"/>
<text x="245.9" y="611.9" text-anchor="middle" font-family="Liberation Sans" font-weight="bold" font-size="14">-90</text>
<line x1="303.9" y1="592.0" x2="303.9" y2="589.0" stroke="#777" stroke-width="0.8"/>
<line x1="303.9" y1="342.3" x2="303.9" y2="345.3" stroke="#777" stroke-width="0.8"/>
<text x="301.6" y="611.9" text-anchor="middle" font-family="Liberation Sans" font-weight="bold" font-size="14">-80</text>
<line x1="359.6" y1="592.0" x2="359.6" y2="589.0" stroke="#777" stroke-width="0.8"/>
<line x1="359.6" y1="342.3" x2="359.6" y2="345.3" stroke="#777" stroke-width="0.8"/>
<text x="357.3" y="611.9" text-anchor="middle" font-family="Liberation Sans" font-weight="bold" font-size="14">-70</text>
<line x1="415.3" y1="592.0" x2="415.3" y2="589.0" stroke="#777" stroke-width="0.8"/>
<line x1="415.3" y1="342.3" x2="415.3" y2="345.3" stroke="#777" stroke-width="0.8"/>
<text x="413.0" y="611.9" text-anchor="middle" font-family="Liberation Sans" font-weight="bold" font-size="14">-60</text>
<line x1="25.5" y1="342.3" x2="28.5" y2="342.3" stroke="#777" stroke-width="0.8"/>
<line x1="415.3" y1="342.3" x2="412.3" y2="342.3" stroke="#777" stroke-width="0.8"/>
<text x="22.1" y="348.8" text-anchor="end" font-family="Liberation Sans" font-weight="bold" font-size="14">60</text>
<line x1="25.5" y1="397.8" x2="28.5" y2="397.8" stroke="#777" stroke-width="0.8"/>
<line x1="415.3" y1="397.8" x2="412.3" y2="397.8" stroke="#777" stroke-width="0.8"/>
<text x="22.1" y="404.3" text-anchor="end" font-family="Liberation Sans" font-weight="bold" font-size="14">50</text>
<line x1="25.5" y1="453.3" x2="28.5" y2="453.3" stroke="#777" stroke-width="0.8"/>
<line x1="415.3" y1="453.3" x2="412.3" y2="453.3" stroke="#777" stroke-width="0.8"/>
<text x="22.1" y="459.9" text-anchor="end" font-family="Liberation Sans" font-weight="bold" font-size="14">40</text>
<line x1="25.5" y1="508.8" x2="28.5" y2="508.8" stroke="#777" stroke-width="0.8"/>
<line x1="415.3" y1="508.8" x2="412.3" y2="508.8" stroke="#777" stroke-width="0.8"/>
<text x="22.1" y="515.4" text-anchor="end" font-family="Liberation Sans" font-weight="bold" font-size="14">30</text>
<line x1="25.5" y1="564.3" x2="28.5" y2="564.3" stroke="#777" stroke-width="0.8"/>
<line x1="415.3" y1="564.3" x2="412.3" y2="564.3" stroke="#777" stroke-width="0.8"/>
<text x="22.1" y="571.0" text-anchor="end" font-family="Liberation Sans" font-weight="bold" font-size="14">20</text>
<linearGradient id="gc" x1="0" y1="0" x2="0" y2="1"><stop offset="0" stop-color="#000080"/><stop offset="0.08" stop-color="#0018a8"/><stop offset="0.17" stop-color="#0040e8"/><stop offset="0.25" stop-color="#0050ff"/><stop offset="0.33" stop-color="#2a66fa"/><stop offset="0.5" stop-color="#6d96f0"/><stop offset="0.67" stop-color="#aac0f2"/><stop offset="0.83" stop-color="#e8edf8"/><stop offset="0.92" stop-color="#fdfbf7"/><stop offset="1" stop-color="#fffefb"/></linearGradient>
<rect x="429.6" y="341.9" width="20.0" height="250.60000000000002" fill="url(#gc)" stroke="#666" stroke-width="1"/>
<line x1="429.6" y1="341.9" x2="432.1" y2="341.9" stroke="#444" stroke-width="0.8"/>
<line x1="449.6" y1="341.9" x2="447.1" y2="341.9" stroke="#444" stroke-width="0.8"/>
<text x="453.4" y="348.5" font-family="Liberation Sans" font-weight="bold" font-size="14">30</text>
<line x1="429.6" y1="383.7" x2="432.1" y2="383.7" stroke="#444" stroke-width="0.8"/>
<line x1="449.6" y1="383.7" x2="447.1" y2="383.7" stroke="#444" stroke-width="0.8"/>
<text x="453.4" y="390.3" font-family="Liberation Sans" font-weight="bold" font-size="14">25</text>
<line x1="429.6" y1="425.4" x2="432.1" y2="425.4" stroke="#444" stroke-width="0.8"/>
<line x1="449.6" y1="425.4" x2="447.1" y2="425.4" stroke="#444" stroke-width="0.8"/>
<text x="453.4" y="432.1" font-family="Liberation Sans" font-weight="bold" font-size="14">20</text>
<line x1="429.6" y1="467.2" x2="432.1" y2="467.2" stroke="#444" stroke-width="0.8"/>
<line x1="449.6" y1="467.2" x2="447.1" y2="467.2" stroke="#444" stroke-width="0.8"/>
<text x="453.4" y="473.9" font-family="Liberation Sans" font-weight="bold" font-size="14">15</text>
<line x1="429.6" y1="509.0" x2="432.1" y2="509.0" stroke="#444" stroke-width="0.8"/>
<line x1="449.6" y1="509.0" x2="447.1" y2="509.0" stroke="#444" stroke-width="0.8"/>
<text x="453.4" y="515.7" font-family="Liberation Sans" font-weight="bold" font-size="14">10</text>
<line x1="429.6" y1="550.7" x2="432.1" y2="550.7" stroke="#444" stroke-width="0.8"/>
<line x1="449.6" y1="550.7" x2="447.1" y2="550.7" stroke="#444" stroke-width="0.8"/>
<text x="453.4" y="557.5" font-family="Liberation Sans" font-weight="bold" font-size="14">5</text>
<line x1="429.6" y1="592.5" x2="432.1" y2="592.5" stroke="#444" stroke-width="0.8"/>
<line x1="449.6" y1="592.5" x2="447.1" y2="592.5" stroke="#444" stroke-width="0.8"/>
<text x="453.4" y="599.3" font-family="Liberation Sans" font-weight="bold" font-size="14">0</text>
<text transform="translate(489.0,595.6) rotate(-90)" x="0" y="0" font-family="Liberation Sans" font-weight="bold" font-size="14" textLength="256.6" lengthAdjust="spacingAndGlyphs">Terrestrial water storage anomaly (cm)</text>
<text x="248.2" y="657.5" text-anchor="middle" font-family="Liberation Serif" font-size="27">(<tspan font-weight="bold">c</tspan>)</text>
<line x1="555.0" y1="341.1" x2="938.5" y2="341.1" stroke="#aaa" stroke-width="1.2"/>
<line x1="938.0" y1="341.1" x2="938.0" y2="586.9" stroke="#999" stroke-width="1.2"/>
<line x1="555.0" y1="586.9" x2="938.5" y2="586.9" stroke="#666" stroke-width="1.4"/>
<line x1="555.5" y1="341.1" x2="555.5" y2="586.9" stroke="#999" stroke-width="1.2"/>
<line x1="555.5" y1="586.9" x2="555.5" y2="583.9" stroke="#777" stroke-width="0.8"/>
<line x1="555.5" y1="341.1" x2="555.5" y2="344.1" stroke="#777" stroke-width="0.8"/>
<text x="553.2" y="606.25" text-anchor="middle" font-family="Liberation Sans" font-weight="bold" font-size="14">-130</text>
<line x1="610.1" y1="586.9" x2="610.1" y2="583.9" stroke="#777" stroke-width="0.8"/>
<line x1="610.1" y1="341.1" x2="610.1" y2="344.1" stroke="#777" stroke-width="0.8"/>
<text x="607.8" y="606.25" text-anchor="middle" font-family="Liberation Sans" font-weight="bold" font-size="14">-120</text>
<line x1="664.8" y1="586.9" x2="664.8" y2="583.9" stroke="#777" stroke-width="0.8"/>
<line x1="664.8" y1="341.1" x2="664.8" y2="344.1" stroke="#777" stroke-width="0.8"/>
<text x="662.5" y="606.25" text-anchor="middle" font-family="Liberation Sans" font-weight="bold" font-size="14">-110</text>
<line x1="719.4" y1="586.9" x2="719.4" y2="583.9" stroke="#777" stroke-width="0.8"/>
<line x1="719.4" y1="341.1" x2="719.4" y2="344.1" stroke="#777" stroke-width="0.8"/>
<text x="717.1" y="606.25" text-anchor="middle" font-family="Liberation Sans" font-weight="bold" font-size="14">-100</text>
<line x1="774.1" y1="586.9" x2="774.1" y2="583.9" stroke="#777" stroke-width="0.8"/>
<line x1="774.1" y1="341.1" x2="774.1" y2="344.1" stroke="#777" stroke-width="0.8"/>
<text x="771.8" y="606.25" text-anchor="middle" font-family="Liberation Sans" font-weight="bold" font-size="14">-90</text>
<line x1="828.7" y1="586.9" x2="828.7" y2="583.9" stroke="#777" stroke-width="0.8"/>
<line x1="828.7" y1="341.1" x2="828.7" y2="344.1" stroke="#777" stroke-width="0.8"/>
<text x="826.4" y="606.25" text-anchor="middle" font-family="Liberation Sans" font-weight="bold" font-size="14">-80</text>
<line x1="883.4" y1="586.9" x2="883.4" y2="583.9" stroke="#777" stroke-width="0.8"/>
<line x1="883.4" y1="341.1" x2="883.4" y2="344.1" stroke="#777" stroke-width="0.8"/>
<text x="881.1" y="606.25" text-anchor="middle" font-family="Liberation Sans" font-weight="bold" font-size="14">-70</text>
<line x1="938.0" y1="586.9" x2="938.0" y2="583.9" stroke="#777" stroke-width="0.8"/>
<line x1="938.0" y1="341.1" x2="938.0" y2="344.1" stroke="#777" stroke-width="0.8"/>
<text x="935.7" y="606.25" text-anchor="middle" font-family="Liberation Sans" font-weight="bold" font-size="14">-60</text>
<line x1="555.5" y1="341.1" x2="558.5" y2="341.1" stroke="#777" stroke-width="0.8"/>
<line x1="938.0" y1="341.1" x2="935.0" y2="341.1" stroke="#777" stroke-width="0.8"/>
<text x="551.75" y="347.2" text-anchor="end" font-family="Liberation Sans" font-weight="bold" font-size="14">60</text>
<line x1="555.5" y1="395.7" x2="558.5" y2="395.7" stroke="#777" stroke-width="0.8"/>
<line x1="938.0" y1="395.7" x2="935.0" y2="395.7" stroke="#777" stroke-width="0.8"/>
<text x="551.75" y="401.9" text-anchor="end" font-family="Liberation Sans" font-weight="bold" font-size="14">50</text>
<line x1="555.5" y1="450.3" x2="558.5" y2="450.3" stroke="#777" stroke-width="0.8"/>
<line x1="938.0" y1="450.3" x2="935.0" y2="450.3" stroke="#777" stroke-width="0.8"/>
<text x="551.75" y="456.6" text-anchor="end" font-family="Liberation Sans" font-weight="bold" font-size="14">40</text>
<line x1="555.5" y1="505.0" x2="558.5" y2="505.0" stroke="#777" stroke-width="0.8"/>
<line x1="938.0" y1="505.0" x2="935.0" y2="505.0" stroke="#777" stroke-width="0.8"/>
<text x="551.75" y="511.4" text-anchor="end" font-family="Liberation Sans" font-weight="bold" font-size="14">30</text>
<line x1="555.5" y1="559.6" x2="558.5" y2="559.6" stroke="#777" stroke-width="0.8"/>
<line x1="938.0" y1="559.6" x2="935.0" y2="559.6" stroke="#777" stroke-width="0.8"/>
<text x="551.75" y="566.0" text-anchor="end" font-family="Liberation Sans" font-weight="bold" font-size="14">20</text>
<linearGradient id="gd" x1="0" y1="0" x2="0" y2="1"><stop offset="0" stop-color="#0a1488"/><stop offset="0.1" stop-color="#0a30c0"/><stop offset="0.17" stop-color="#1a5ff0"/><stop offset="0.25" stop-color="#4a80f0"/><stop offset="0.33" stop-color="#9ab8f5"/><stop offset="0.42" stop-color="#dde8fb"/><stop offset="0.5" stop-color="#ffffff"/><stop offset="0.58" stop-color="#fbf4ea"/><stop offset="0.67" stop-color="#f5e4cc"/><stop offset="0.75" stop-color="#efd0aa"/><stop offset="0.83" stop-color="#e8ac7c"/><stop offset="0.92" stop-color="#e0844a"/><stop offset="1" stop-color="#da5a1a"/></linearGradient>
<rect x="952.3" y="340.5" width="19.700000000000045" height="246.29999999999995" fill="url(#gd)" stroke="#666" stroke-width="1"/>
<line x1="952.3" y1="340.5" x2="954.8" y2="340.5" stroke="#444" stroke-width="0.8"/>
<line x1="972.0" y1="340.5" x2="969.5" y2="340.5" stroke="#444" stroke-width="0.8"/>
<text x="974.9" y="346.8" font-family="Liberation Sans" font-weight="bold" font-size="14">30</text>
<line x1="952.3" y1="381.6" x2="954.8" y2="381.6" stroke="#444" stroke-width="0.8"/>
<line x1="972.0" y1="381.6" x2="969.5" y2="381.6" stroke="#444" stroke-width="0.8"/>
<text x="974.9" y="387.9" font-family="Liberation Sans" font-weight="bold" font-size="14">20</text>
<line x1="952.3" y1="422.6" x2="954.8" y2="422.6" stroke="#444" stroke-width="0.8"/>
<line x1="972.0" y1="422.6" x2="969.5" y2="422.6" stroke="#444" stroke-width="0.8"/>
<text x="974.9" y="429.0" font-family="Liberation Sans" font-weight="bold" font-size="14">10</text>
<line x1="952.3" y1="463.6" x2="954.8" y2="463.6" stroke="#444" stroke-width="0.8"/>
<line x1="972.0" y1="463.6" x2="969.5" y2="463.6" stroke="#444" stroke-width="0.8"/>
<text x="974.9" y="470.1" font-family="Liberation Sans" font-weight="bold" font-size="14">0</text>
<line x1="952.3" y1="504.7" x2="954.8" y2="504.7" stroke="#444" stroke-width="0.8"/>
<line x1="972.0" y1="504.7" x2="969.5" y2="504.7" stroke="#444" stroke-width="0.8"/>
<text x="974.9" y="511.2" font-family="Liberation Sans" font-weight="bold" font-size="14">-10</text>
<line x1="952.3" y1="545.8" x2="954.8" y2="545.8" stroke="#444" stroke-width="0.8"/>
<line x1="972.0" y1="545.8" x2="969.5" y2="545.8" stroke="#444" stroke-width="0.8"/>
<text x="974.9" y="552.3" font-family="Liberation Sans" font-weight="bold" font-size="14">-20</text>
<line x1="952.3" y1="586.8" x2="954.8" y2="586.8" stroke="#444" stroke-width="0.8"/>
<line x1="972.0" y1="586.8" x2="969.5" y2="586.8" stroke="#444" stroke-width="0.8"/>
<text x="974.9" y="593.4" font-family="Liberation Sans" font-weight="bold" font-size="14">-30</text>
<text transform="translate(1015.5,590.0) rotate(-90)" x="0" y="0" font-family="Liberation Sans" font-weight="bold" font-size="14" textLength="252.0" lengthAdjust="spacingAndGlyphs">Terrestrial water storage anomaly (cm)</text>
<text x="777.0" y="651.0" text-anchor="middle" font-family="Liberation Serif" font-size="27">(<tspan font-weight="bold">d</tspan>)</text>
</svg></body></html>
